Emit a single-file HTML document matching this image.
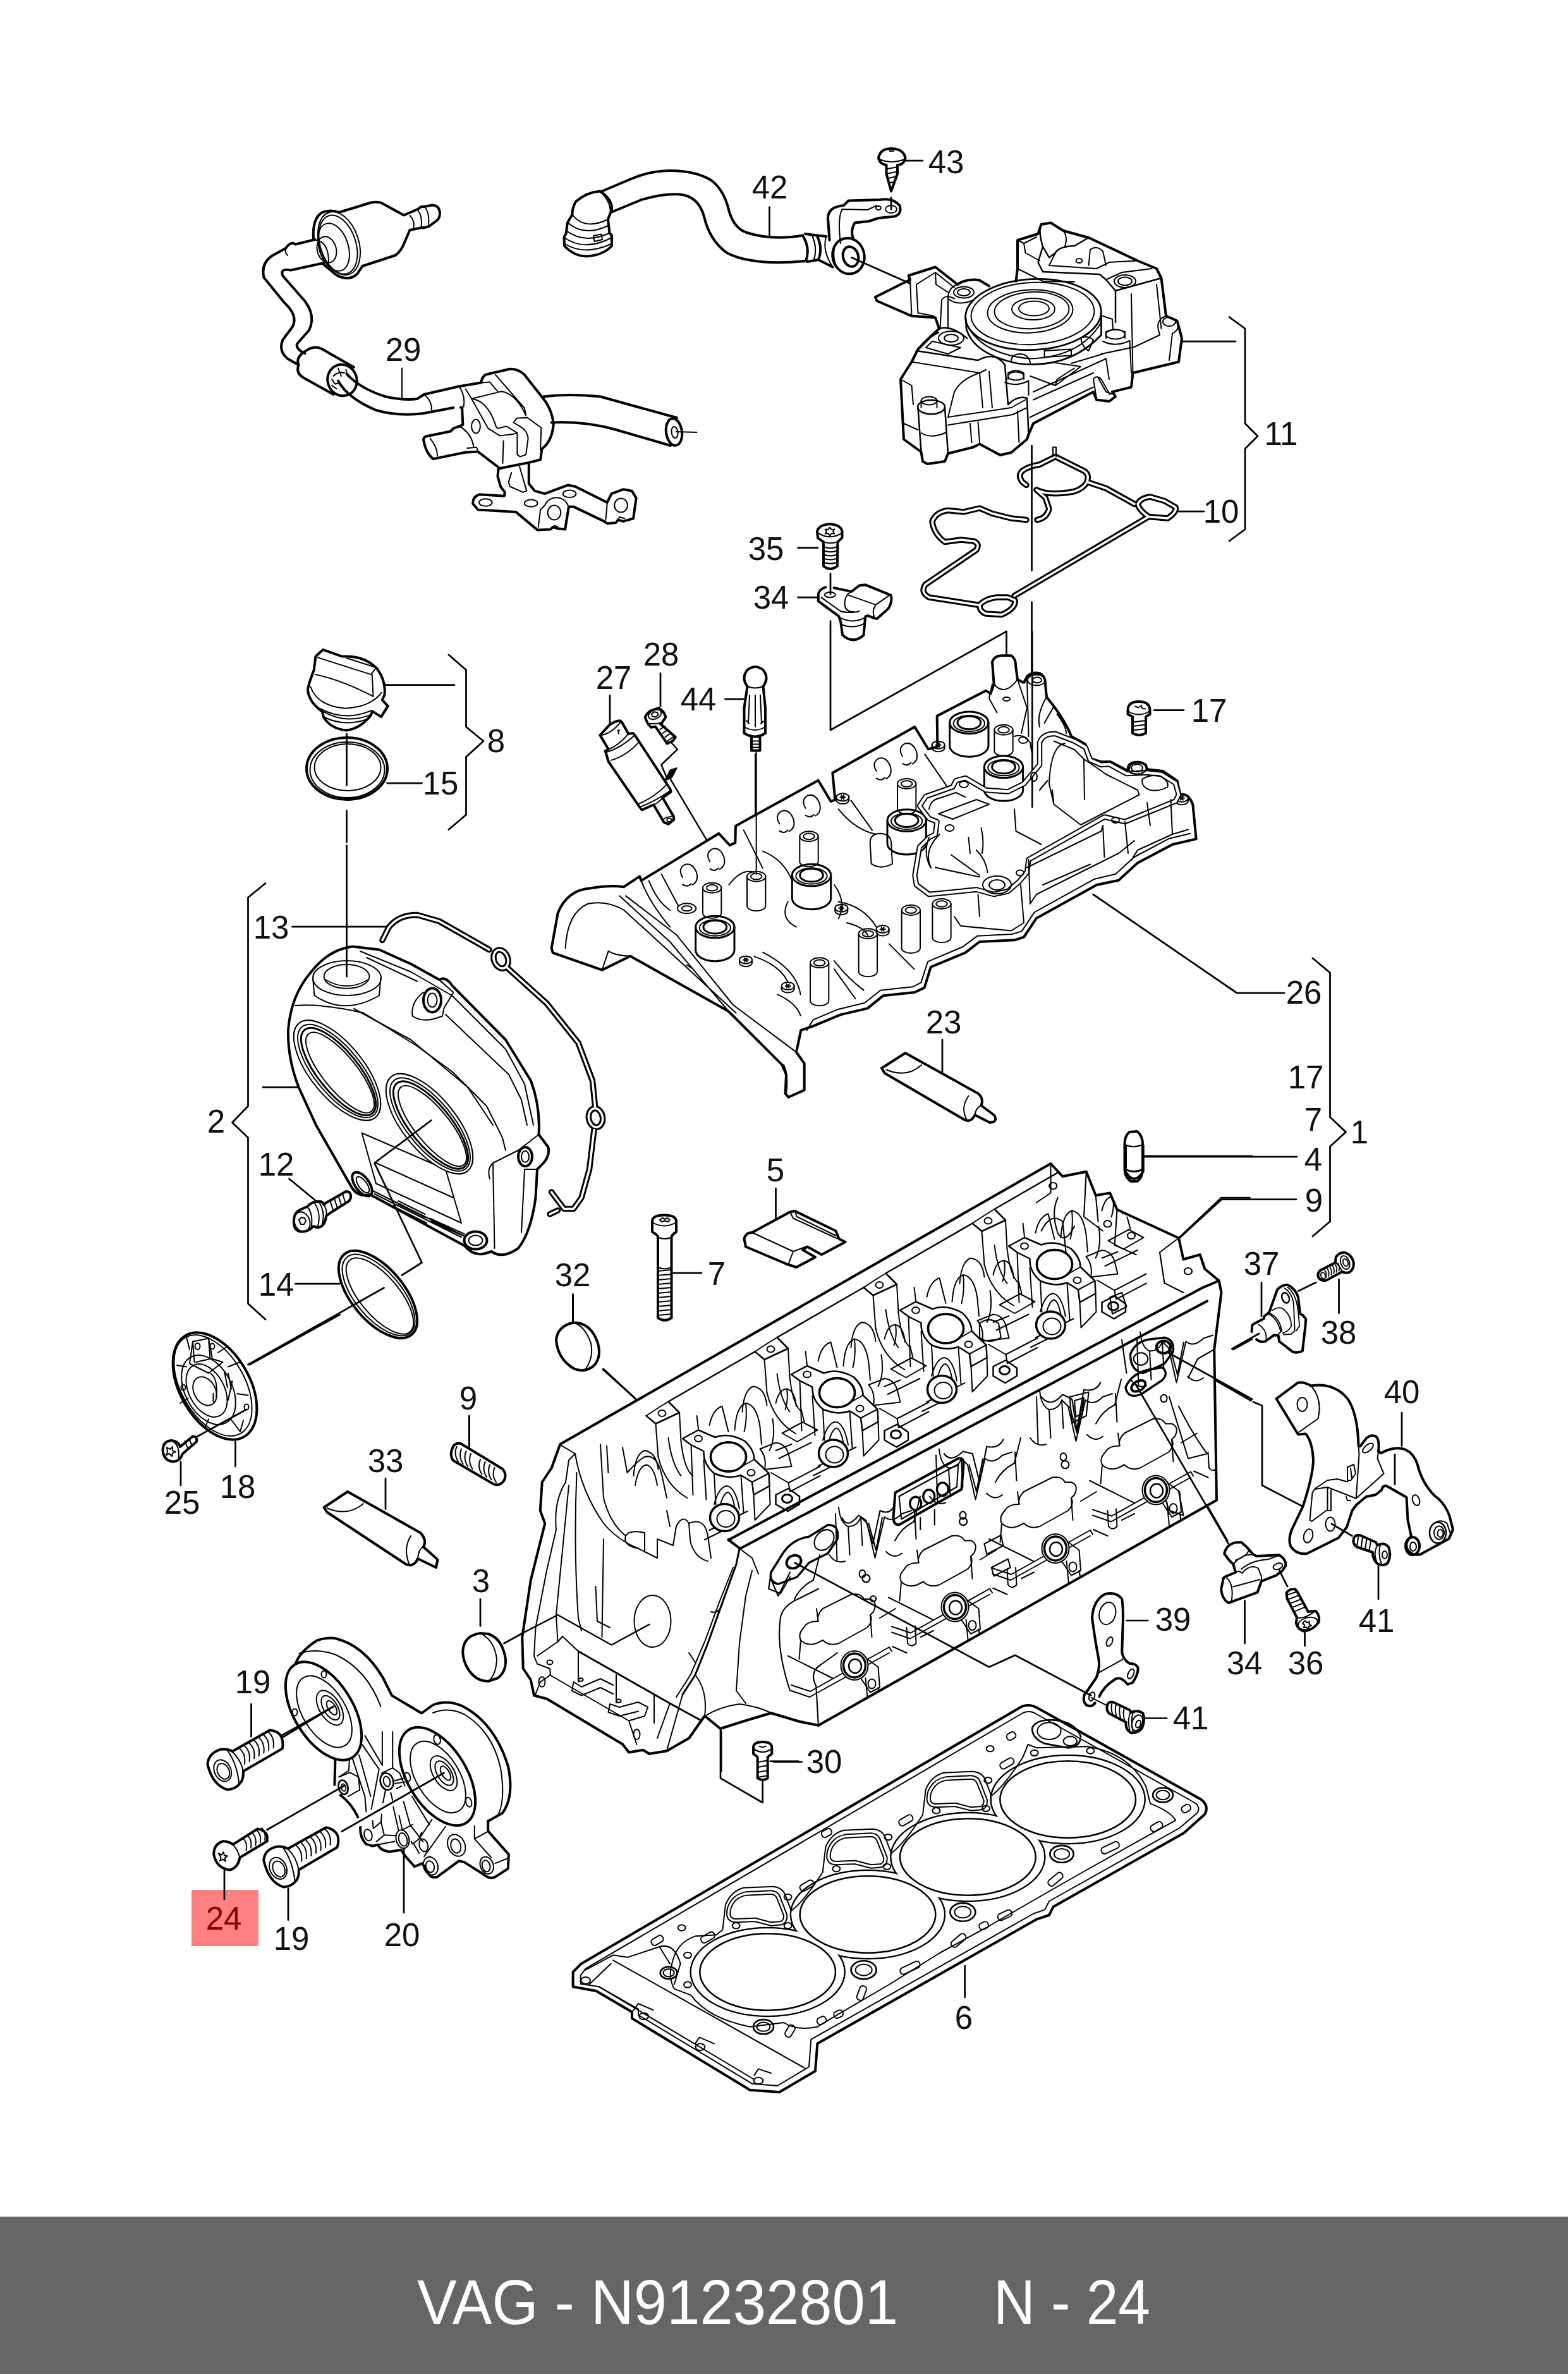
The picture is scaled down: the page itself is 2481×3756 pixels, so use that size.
<!DOCTYPE html>
<html><head><meta charset="utf-8"><title>VAG - N91232801 N - 24</title>
<style>
html,body{margin:0;padding:0;background:#fff;}
body{width:2481px;height:3756px;position:relative;overflow:hidden;font-family:"Liberation Sans",sans-serif;}
svg{position:absolute;left:0;top:0;}
.footer{position:absolute;left:0;top:3507px;width:2481px;height:249px;background:#666666;}
.ln{fill:none;stroke:#000;stroke-width:8;stroke-linecap:round;stroke-linejoin:round;}
.ln *{vector-effect:none;}
.wf{fill:#fff;}
.tn{stroke-width:4;}
.ld{stroke-width:5.5;}
.ln6{fill:none;stroke:#000;stroke-width:6;stroke-linecap:round;stroke-linejoin:round;}
.tn3{fill:none;stroke:#000;stroke-width:3;stroke-linecap:round;stroke-linejoin:round;}
.ln5{fill:none;stroke:#000;stroke-width:5.33;stroke-linecap:round;stroke-linejoin:round;}
.tn27{fill:none;stroke:#000;stroke-width:2.8;stroke-linecap:round;stroke-linejoin:round;}
.ld33{fill:none;stroke:#000;stroke-width:3.5;}
.md45{fill:none;stroke:#000;stroke-width:4.5;stroke-linecap:round;stroke-linejoin:round;}
.z4{fill:none;stroke:#000;stroke-width:17.4;stroke-linecap:round;stroke-linejoin:round;}
.z4t{stroke-width:8.7;}
.z5{fill:none;stroke:#000;stroke-width:19.6;stroke-linecap:round;stroke-linejoin:round;}
.z5t{stroke-width:9.8;}
.z56{fill:none;stroke:#000;stroke-width:22.4;stroke-linecap:round;stroke-linejoin:round;}
.z56t{stroke-width:11;}
.z39{fill:none;stroke:#000;stroke-width:15.7;stroke-linecap:round;stroke-linejoin:round;}
.z39t{stroke-width:7.8;}
.z52{fill:none;stroke:#000;stroke-width:20.9;stroke-linecap:round;stroke-linejoin:round;}
.z52t{stroke-width:10.5;}
.z46{fill:none;stroke:#000;stroke-width:18.4;stroke-linecap:round;stroke-linejoin:round;}
.z46t{stroke-width:9.2;}
.z65{fill:none;stroke:#000;stroke-width:26;stroke-linecap:round;stroke-linejoin:round;}
.z65t{stroke-width:12;}
.ld4{fill:none;stroke:#000;stroke-width:4;}
.gk{stroke-width:19;}
.gkw{stroke:#fff;stroke-width:7;}
.lbl{font-family:"Liberation Sans",sans-serif;font-size:51px;fill:#111;text-anchor:middle;}
.ft{font-family:"Liberation Sans",sans-serif;font-size:100px;fill:#fff;}
</style></head><body>
<div class="footer"></div>
<svg width="2481" height="3756" viewBox="0 0 2481 3756">
<!-- 00_footer.svg -->
<text class="ft" x="660" y="3677" textLength="761" lengthAdjust="spacingAndGlyphs">VAG - N91232801</text>
<text class="ft" x="1572" y="3677" textLength="248" lengthAdjust="spacingAndGlyphs">N - 24</text>

<!-- 10_tileA_29.svg -->
<g class="ln" transform="translate(300,200) scale(0.5)">
<!-- canister -->
<path d="M392,355 Q388,290 420,272 Q445,262 473,272 L574,241 Q590,238 605,241 L678,281 L724,261 Q732,252 742,254 L768,249 Q790,250 792,273 Q792,292 782,298 L758,316 Q740,322 735,320 L697,328 L681,365 Q670,395 651,408 L547,442 L531,466 Q515,482 495,480 Q470,478 452,460 L423,436"/>
<g class="tn">
<ellipse cx="473" cy="370" rx="62" ry="103" transform="rotate(-18 473 370)"/>
<ellipse cx="470" cy="374" rx="56" ry="96" transform="rotate(-18 470 374)"/>
<ellipse cx="456" cy="382" rx="46" ry="78" transform="rotate(-18 456 382)"/>
<ellipse cx="434" cy="390" rx="30" ry="42" transform="rotate(-15 434 390)"/>
<path d="M400,360 Q440,365 440,430"/>
<path d="M697,282 Q715,300 708,325 M722,265 Q738,285 733,318 M745,256 Q760,275 756,314"/>
</g>
<!-- pipe from canister -->
<path d="M397,358 L335,373 Q320,362 305,385 L260,410 Q225,435 235,478 L300,558 Q345,600 325,635 L295,675 Q280,710 310,735 L345,755"/>
<path d="M424,432 L320,455 Q285,448 295,473 L365,553 Q400,600 378,645 L340,688 Q335,705 365,718"/>
<path class="tn" d="M305,385 Q300,400 310,408"/>
<!-- sleeve -->
<path d="M345,755 Q335,730 365,712 Q395,690 420,705 L520,762"/>
<path d="M345,755 Q335,780 360,795 L455,848"/>
<ellipse cx="483" cy="803" rx="46" ry="50" transform="rotate(-20 483 803)"/>
<path class="tn" d="M455,790 Q470,775 490,780 M450,820 L465,830 M470,765 L480,790 M495,770 L500,790 M450,800 L460,815 L475,812"/>
<!-- tube to valve -->
<path d="M497,783 Q540,830 620,855 Q680,868 720,862 L742,848 L855,822"/>
<path d="M470,805 Q500,860 590,898 Q660,918 740,908 L835,890"/>
<path class="tn" d="M742,848 Q770,870 765,905"/>
<!-- valve+bracket (zoom coords) -->
</g>
<g class="z4" transform="translate(660,570) scale(0.22957)">
<path d="M290,180 L440,155 Q450,100 490,95 L640,60 Q700,60 740,100 L850,240 Q930,330 940,440 Q930,560 860,610 L850,685 L770,705 L770,850 L810,900 L880,920 L1040,860 L1090,870 L1310,980 L1340,920 L1420,890 L1480,900 L1510,950 L1490,1090 L1420,1110 L1385,1100 L1370,1120 L1310,1125 L1290,1110 L1080,1010 L1045,1010 L1020,1165 L970,1160 L935,1150 L920,1165 L830,1170 L680,1045 L420,1030 L385,990 Q380,940 430,925 L600,935 L605,910 L575,870 L555,800 L560,750 L570,745 L420,630 L330,635 L110,680 Q60,640 45,555 Q40,535 60,525 L230,490 L250,470 L315,445 L310,330 L300,325"/>
<path d="M570,745 L770,705"/>
<g class="z4t">
<path d="M290,180 Q335,250 320,320 L300,325 M375,265 L580,215 Q680,230 750,380 M335,200 L375,265 L490,470 L570,520 L660,510 L690,500 L690,650 L710,665 L750,650 L765,540 Q760,480 700,450 L665,430 L685,400 L760,395 L855,465 L850,620 M375,265 Q490,280 545,460 L555,470 L615,455 L690,500 M595,555 L590,710 M440,155 L500,150 L555,215 M540,100 L740,330 L750,380 M90,540 Q140,600 140,660 M250,470 Q300,450 315,470 M345,605 L410,600 L420,630 M315,470 Q380,520 390,600"/>
<ellipse cx="405" cy="455" rx="30" ry="48"/>
<path d="M650,775 L630,840 L640,870 L730,910 L755,900 L705,730 M880,1000 Q900,950 960,945 Q1020,950 1040,1000 M835,1150 L850,1030 L880,1000 M1300,1100 L1310,985 M1385,1100 L1395,1080 L1430,1090 M935,1150 L945,1140 L970,1145"/>
<ellipse cx="472" cy="980" rx="45" ry="25"/><ellipse cx="785" cy="985" rx="45" ry="25"/><ellipse cx="1050" cy="920" rx="45" ry="25"/><ellipse cx="945" cy="1050" rx="45" ry="50"/><ellipse cx="1405" cy="1000" rx="45" ry="48"/>
</g>
</g>
<g class="ln" transform="translate(300,200) scale(0.5)">
<!-- right hose -->
<path d="M1120,855 Q1200,845 1300,855 L1542,922"/>
<path d="M1145,937 Q1250,932 1350,960 L1522,1010"/>
<ellipse cx="1533" cy="967" rx="25" ry="43" transform="rotate(-8 1533 967)"/>
<ellipse class="tn" cx="1535" cy="968" rx="10" ry="18" transform="rotate(-8 1535 968)"/>
<path d="M1540,966 L1605,968" class="tn"/>
<path d="M672,765 L672,860" class="tn"/>
</g>
<text class="lbl" x="638" y="571">29</text>

<!-- 11_tileB_42.svg -->
<g class="ln" transform="translate(850,200) scale(0.5)">
<!-- elbow connector -->
<path d="M198,205 Q157,208 122,238 Q110,260 111,279 L96,304 L91,340 L85,350 L86,378 Q117,411 157,411 Q208,408 236,378 L236,345 L229,337 L224,294 L236,263 Q238,230 198,205"/>
<g class="tn">
<path d="M111,279 Q150,330 224,294 M96,304 Q150,352 228,312 M92,330 Q150,374 230,337 M86,352 Q150,397 236,352 M88,372 Q150,410 234,372 M198,205 Q232,235 232,275"/>
<path d="M178,346 L203,341 L206,358 L181,364 Z"/>
</g>
<!-- hose -->
<path d="M205,205 L300,165 Q360,140 420,140 Q500,140 550,170 Q590,200 605,260 Q620,320 660,335 Q740,362 840,345"/>
<path d="M238,270 L330,232 Q400,212 450,215 Q510,220 528,285 Q545,360 600,400 Q680,442 850,426"/>
<path d="M840,345 Q865,385 850,426 M848,340 L885,345 Q905,385 890,422 L855,428"/>
<path class="tn" d="M870,345 Q888,385 875,425"/>
<path d="M885,345 L915,348 M890,422 L935,445"/>
<!-- ring -->
<ellipse cx="985" cy="410" rx="50" ry="57" transform="rotate(-15 985 410)"/>
<ellipse cx="992" cy="412" rx="24" ry="32" transform="rotate(-15 992 412)"/>
<path class="tn" d="M945,370 Q930,410 950,450 M915,348 Q900,390 935,445"/>
<!-- bracket arm -->
<path d="M925,360 L920,290 Q920,255 970,250 L985,235 L1085,232 Q1125,225 1147,250 Q1155,278 1130,285 L1080,290 L1050,300 L1005,305 Q990,330 1000,355"/>
<path class="tn" d="M965,262 L1045,264 L1075,250 M965,262 Q950,290 960,370"/>
<ellipse class="tn" cx="1080" cy="258" rx="8" ry="6"/>
<ellipse class="tn" cx="1120" cy="262" rx="18" ry="12"/>
<path class="ld" d="M995,415 L1180,497"/>
<path class="ld" d="M1120,225 L1120,262"/>
<!-- screw 43 -->
<path d="M1080,100 Q1085,70 1122,70 Q1160,72 1165,100 Q1160,122 1140,122 L1140,150 L1120,205 L1105,150 L1105,122 Q1085,120 1080,100 Z" />
<path class="tn" d="M1105,135 L1140,128 M1105,150 L1140,143 M1108,165 L1137,158 M1112,180 L1132,174 M1085,105 Q1122,120 1160,105 M1115,78 L1128,78"/>
<path class="ld" d="M1165,108 L1220,108"/>
<path class="ld" d="M735,255 L735,350"/>
</g>
<text class="lbl" x="1497" y="274">43</text>
<text class="lbl" x="1218" y="314">42</text>

<!-- 12_tileC_11.svg -->
<g class="ln" transform="translate(1350,300) scale(0.5)">
<!-- module silhouette -->
<path d="M70,340 L180,285 L175,272 L260,245 L330,300 Q360,280 400,287 L430,305 M70,340 L75,352 L185,400 L260,405 L272,440 L250,460 L205,505 L185,545 L150,600 L160,790 L215,830 L220,860 L235,868 L290,860 L300,835 L380,815 L400,805 L465,840 L500,832 L550,790 L555,775 L570,740 L760,640 L770,665 L810,670 L830,655 L820,640 L880,625 L885,580 L1030,545 L1040,470 L1025,415 L990,400 L975,280 L960,250 L900,225 L745,152 L665,130 L625,105 L595,110 L585,140 L520,160 L520,250 L515,290"/>
<!-- big cap -->
<ellipse cx="570" cy="395" rx="215" ry="112" transform="rotate(-3 570 395)" style="stroke-width:5.5"/>
<path style="stroke-width:5.5" d="M356,405 L358,440 Q380,520 520,550 Q680,570 785,460 L785,395"/>
<g class="tn">
<ellipse cx="568" cy="392" rx="195" ry="98" transform="rotate(-3 568 392)"/>
<ellipse cx="560" cy="385" rx="135" ry="68" transform="rotate(-3 560 385)"/>
<ellipse cx="565" cy="382" rx="118" ry="58" transform="rotate(-3 565 382)"/>
<ellipse cx="570" cy="378" rx="68" ry="34"/>
<ellipse cx="572" cy="376" rx="48" ry="23"/>
<path d="M357,420 Q400,520 560,535 Q720,530 785,420"/>
<path d="M605,510 L690,505 L690,525 L605,530 Z M720,470 Q740,460 760,475 L745,510 Q725,500 720,470"/>
<path d="M500,545 Q500,520 530,520 Q555,522 560,548"/>
</g>
<!-- left tab details -->
<g class="tn">
<path d="M180,285 L185,400 M200,300 L205,390 L255,400 M200,300 L260,262 L320,310 M260,262 L262,300 L300,325"/>
<path d="M275,440 L280,350 Q290,330 320,345 M330,300 Q300,310 300,345 Q330,370 380,350 M300,345 L300,440"/>
</g>
<ellipse class="tn" cx="350" cy="325" rx="32" ry="18"/>
<ellipse class="tn" cx="350" cy="325" rx="20" ry="11"/>
<!-- top-right block -->
<path style="stroke-width:5" d="M595,110 Q585,130 600,180 L620,215 L640,200 Q650,180 700,178 L745,152 M600,180 L585,230 L600,260 L780,268 L800,285 L830,320 L975,280 M830,320 L830,420"/>
<g class="tn">
<path d="M520,160 L540,170 L545,200 L590,225 M540,170 L580,150 M520,250 L600,290 L700,292 M640,200 L620,240 L770,250 L810,230 L900,225 M750,190 Q770,175 790,195 L800,240 M750,190 L745,240 M665,130 Q680,150 670,180 M800,285 L850,262 L945,250"/>
<ellipse cx="715" cy="225" rx="10" ry="7"/>
<ellipse cx="860" cy="290" rx="22" ry="13"/>
<ellipse cx="860" cy="290" rx="34" ry="20"/>
<path d="M880,330 L885,580 M960,300 L975,440 M990,400 Q960,410 965,440 L970,460 L885,500 M1025,415 Q1035,445 1010,455 L1000,540"/>
<ellipse cx="1000" cy="418" rx="20" ry="14"/>
</g>
<!-- lower body -->
<path style="stroke-width:5" d="M200,510 L395,540 Q450,510 480,555 L490,680 Q520,650 550,660 L555,775 M205,505 Q230,470 270,452 M272,440 Q300,430 340,455 L360,470"/>
<path style="stroke-width:5" d="M205,690 L215,830 M290,690 L300,835"/>
<ellipse cx="247" cy="688" rx="43" ry="22" style="stroke-width:5"/>
<g class="tn">
<ellipse cx="240" cy="668" rx="25" ry="13"/>
<path d="M215,668 L215,690 M265,668 L265,690 M215,770 Q247,790 295,768"/>
<ellipse cx="310" cy="470" rx="40" ry="22"/>
<ellipse cx="310" cy="470" rx="22" ry="12"/>
<path d="M185,545 L400,580 L420,570 M150,600 L185,620 L190,680 M160,740 L205,760 M230,500 L300,520 L340,500 L250,480 Z M300,720 L500,690 L545,665 M300,745 L505,712 L550,690 M320,640 Q340,600 400,580 L410,690 M430,575 L440,690 M300,720 L320,640 M370,740 L375,800 M395,735 L400,800 M520,700 L525,800"/>
<path d="M490,600 L490,580 Q515,565 540,580 L540,600 M480,610 Q515,625 555,605 L555,650"/>
<ellipse cx="515" cy="590" rx="25" ry="13"/>
<path d="M560,590 L640,620 L720,560 L640,548 M570,640 L800,535 L810,600 M570,665 L760,580 M560,720 L760,625 M640,620 L645,600 L700,565 M690,550 L740,535 L790,520 M760,600 L770,660 M775,595 L800,640 L830,650 M760,600 Q770,585 785,600 L812,648"/>
<path d="M800,470 L800,450 Q830,435 860,450 L860,470 M790,480 Q830,500 875,478 L880,580"/>
<ellipse cx="830" cy="458" rx="30" ry="15"/>
<path d="M790,400 L820,410 L822,440 M785,520 L880,500"/>
</g>
<!-- leaders/bracket -->
<path class="ld" d="M1040,480 L1210,480"/>
<path class="ld" d="M1190,403 L1240,440 L1240,740 L1280,780 L1240,820 L1240,1075 L1190,1112"/>
<path class="ld" d="M1025,1018 L1110,1018"/>
<!-- gasket 10 -->
<g class="gk">
<path d="M640,845 L730,890 Q748,900 740,925 L800,945 L890,995 M935,1035 L510,1285 M400,1315 L240,1290 Q212,1275 228,1250 L390,1140 Q402,1120 380,1112 L340,1108 L290,1115 Q255,1090 250,1050 Q262,1020 300,1015 L350,1020 L400,1008 L440,1025 L500,1040 L548,1045 M582,1045 Q612,1040 620,1010 L608,975 L580,950 M640,845 L590,870 M580,950 Q620,970 700,955 Q730,945 740,925 M590,870 Q555,875 535,890"/>
<path d="M940,972 Q910,975 900,995 Q905,1015 935,1035 L995,1040 Q1025,1020 1020,1005 L985,985 Z"/>
<path d="M455,1290 Q415,1295 400,1315 Q400,1335 420,1342 L470,1345 Q515,1325 512,1300 L490,1290 Z"/>
<path d="M535,890 Q520,905 535,925 L548,935"/>
</g>
<g class="gkw">
<path d="M640,845 L730,890 Q748,900 740,925 L800,945 L890,995 M935,1035 L510,1285 M400,1315 L240,1290 Q212,1275 228,1250 L390,1140 Q402,1120 380,1112 L340,1108 L290,1115 Q255,1090 250,1050 Q262,1020 300,1015 L350,1020 L400,1008 L440,1025 L500,1040 L548,1045 M582,1045 Q612,1040 620,1010 L608,975 L580,950 M640,845 L590,870 M580,950 Q620,970 700,955 Q730,945 740,925 M590,870 Q555,875 535,890"/>
<path d="M940,972 Q910,975 900,995 Q905,1015 935,1035 L995,1040 Q1025,1020 1020,1005 L985,985 Z"/>
<path d="M455,1290 Q415,1295 400,1315 Q400,1335 420,1342 L470,1345 Q515,1325 512,1300 L490,1290 Z"/>
<path d="M535,890 Q520,905 535,925 L548,935"/>
</g>
<path d="M632,845 L632,815 L642,815 L642,845" class="tn"/>
<path class="ld" d="M565,810 L565,1205 M565,1305 L565,1568"/>
</g>
<text class="lbl" x="2027" y="704">11</text>
<text class="lbl" x="1932" y="827">10</text>

<!-- 13_tileD_small.svg -->
<g class="ln" transform="translate(850,800) scale(0.5)">
<!-- screw 35 moved -->
<path class="ld" d="M825,133 L888,133 M928,215 L928,280"/>
<!-- sensor 34 moved -->
<path class="ld" d="M825,290 L890,290 M928,365 L928,710 L1485,398 L1485,610"/>
<ellipse class="tn" cx="1485" cy="612" rx="9" ry="5"/>
<!-- 28 -->
<path class="ld" d="M390,530 L390,635 M230,600 L230,690"/>
</g>
<g class="z5" transform="translate(930,1110) scale(0.20408)">
<path d="M95,260 L170,180 Q210,150 250,148 L265,160 L315,250 L350,245 L365,260 L640,680 L645,700 L580,745 L665,890 L668,915 L625,950 L590,935 L510,800 L420,840 L400,815 L160,465 L140,395 L135,385 L160,370 Z"/>
<g class="z5t">
<path d="M100,262 Q180,250 255,160 M160,370 Q240,340 315,250 M140,395 Q260,360 365,260 M180,455 Q300,420 390,320 M400,790 Q520,740 615,640 M410,815 Q530,770 640,690 M510,800 Q550,785 580,745 M590,910 Q610,895 650,890 M230,225 L245,222 M235,225 L240,250"/>
<ellipse cx="632" cy="918" rx="18" ry="14"/>
</g>
<path d="M445,125 Q450,95 490,70 L550,50 Q590,70 605,120 L575,165 L560,170 L680,275 L660,305 L615,325 L525,195 L490,200 L465,170 Z"/>
<g class="z5t">
<ellipse cx="520" cy="100" rx="52" ry="34" transform="rotate(-25 520 100)"/>
<path d="M495,95 l20,-15 l25,5 l5,20 l-20,15 l-25,-5 z M465,170 Q520,175 575,165 M560,215 L600,190 M580,245 L622,218 M600,275 L645,245 M618,305 L662,275"/>
<path d="M640,310 L695,370 L570,490 L610,585" style="stroke-width:12"/>
<path d="M640,530 L690,515 L650,590 L600,610 Z" style="fill:#000"/>
<path d="M640,600 L920,1070" style="stroke-width:12"/>
</g>
</g>
<g class="ln" transform="translate(850,800) scale(0.5)">
<!-- 44 -->
<path d="M665,572 Q645,545 665,520 Q690,500 715,520 Q735,545 715,572 L722,640 L722,720 Q690,742 655,720 L655,640 Z"/>
<path class="tn" d="M665,572 Q690,582 715,572 M672,600 L668,690 M690,600 L690,700 M706,600 L710,690 M655,700 Q690,720 722,700 M662,680 l8,8 M708,690 l8,-8"/>
<path d="M678,735 L678,775 L705,775 L705,735"/>
<path class="tn" d="M678,745 L705,745 M678,755 L705,755 M678,765 L705,765"/>
<path class="ld" d="M595,612 L655,612"/>
<path class="tn" d="M690,785 L690,1170"/>
</g>
<text class="lbl" x="1212" y="886">35</text>
<text class="lbl" x="1220" y="963">34</text>
<text class="lbl" x="1046" y="1053">28</text>
<text class="lbl" x="971" y="1090">27</text>
<text class="lbl" x="1105" y="1124">44</text>

<!-- 14_tileF_cap.svg -->
<g class="ln" transform="translate(300,1000) scale(0.5)">
<!-- oil cap 8 -->
</g>
<g class="z56" transform="translate(470,1010) scale(0.17857)">
<path d="M165,160 L230,100 L400,160 Q600,150 710,270 Q790,380 775,500 L755,545 L805,600 L745,695 L665,645 L655,680 Q560,800 435,815 Q300,800 235,700 L225,650 Q100,560 95,450 Q110,380 150,280 Z"/>
<g class="z56t">
<path d="M185,170 L655,320 M160,320 Q400,370 675,515 M655,320 L690,275 M665,320 L675,515 M440,175 L690,255 M120,430 Q180,600 430,620 Q650,610 750,480 M200,620 Q420,740 655,640 M235,650 Q430,760 645,680 M245,700 Q430,790 640,710"/>
</g>
</g>
<g class="ln" transform="translate(300,1000) scale(0.5)">
<path class="ld" d="M620,167 L838,167"/>
<!-- o-ring 15 -->
<ellipse cx="498" cy="432" rx="128" ry="98"/>
<ellipse cx="500" cy="428" rx="105" ry="74" style="stroke-width:4"/>
<ellipse class="tn" cx="499" cy="436" rx="118" ry="88"/>
<path class="ld" d="M625,478 L735,478"/>
<path class="ld" d="M497,322 L497,485 M497,565 L497,665 M497,675 L497,1090"/>
<!-- bracket 8 -->
<path class="ld" d="M820,72 L875,120 L875,300 L930,345 L875,395 L875,578 L820,625"/>
<!-- bracket 2 -->
<path class="ld" d="M240,795 L185,840 L185,1500 L135,1552 L185,1600 L185,2125 L240,2175"/>
<path class="ld" d="M325,932 L625,932 M232,1440 L345,1440"/>
</g>
<text class="lbl" x="785" y="1190">8</text>
<text class="lbl" x="697" y="1257">15</text>
<text class="lbl" x="429" y="1485">13</text>
<text class="lbl" x="342" y="1792">2</text>

<!-- 15_tileG_tcover.svg -->
<g class="ln" transform="translate(300,1500) scale(0.5)">
<!-- gasket 13 -->
<g class="gk">
<path d="M610,-25 L630,-65 Q660,-105 720,-105 L790,-85 L948,5 M1005,62 L1130,175 L1230,300 L1275,420 L1283,500 M1280,575 L1265,700 L1240,790 L1215,825 L1185,825 L1160,792 L1145,772 M1140,842 L1165,830"/>
<ellipse cx="985" cy="35" rx="22" ry="30" transform="rotate(-20 985 35)"/>
<ellipse cx="1285" cy="537" rx="22" ry="30" transform="rotate(-10 1285 537)"/>
</g>
<g class="gkw">
<path d="M610,-25 L630,-65 Q660,-105 720,-105 L790,-85 L948,5 M1005,62 L1130,175 L1230,300 L1275,420 L1283,500 M1280,575 L1265,700 L1240,790 L1215,825 L1185,825 L1160,792 L1145,772 M1140,842 L1165,830"/>
<ellipse cx="985" cy="35" rx="22" ry="30" transform="rotate(-20 985 35)"/>
<ellipse cx="1285" cy="537" rx="22" ry="30" transform="rotate(-10 1285 537)"/>
</g>
<!-- cover outline -->
<path class="wf" d="M515,-5 L600,5 L700,50 L790,100 Q812,88 832,120 L1000,290 L1080,420 Q1110,500 1105,590 L1135,630 Q1142,662 1110,690 L1100,700 L1095,790 Q1080,900 1040,950 Q990,985 955,960 L940,965 Q900,978 870,942 L590,790 L570,780 Q530,790 510,752 L400,560 L345,440 Q310,350 312,260 Q320,150 385,75 Q440,5 515,-5 Z"/>
<!-- neck -->
<path class="tn" d="M390,95 L395,150 Q490,215 600,150 L605,95"/>
<ellipse class="tn" cx="498" cy="95" rx="108" ry="55"/>
<ellipse class="tn" cx="497" cy="90" rx="72" ry="38"/>
<path class="tn" d="M430,100 Q497,140 565,100"/>
<path class="tn" d="M545,585 L810,700 L860,870 L590,745 Z M590,680 L835,790"/>
<!-- seal openings -->
<g class="tn">
<ellipse class="wf" cx="467" cy="387" rx="192" ry="84" transform="rotate(51 467 387)"/>
<ellipse cx="469" cy="389" rx="180" ry="73" transform="rotate(51 469 389)"/>
<ellipse cx="476" cy="394" rx="158" ry="54" transform="rotate(51 476 394)"/>
<ellipse class="wf" cx="759" cy="556" rx="192" ry="84" transform="rotate(51 759 556)"/>
<ellipse cx="761" cy="558" rx="180" ry="73" transform="rotate(51 761 558)"/>
<ellipse cx="768" cy="563" rx="158" ry="54" transform="rotate(51 768 563)"/>
</g>
<ellipse cx="471" cy="391" rx="170" ry="64" transform="rotate(51 471 391)" style="stroke-width:6"/>
<ellipse cx="763" cy="560" rx="170" ry="64" transform="rotate(51 763 560)" style="stroke-width:6"/>
<!-- ridge lines -->
<g class="tn">
<path d="M335,182 Q420,175 550,205 L720,310 L830,390 L940,500 L990,600 L1000,640"/>
<path d="M520,192 L700,290 L880,440 L960,560"/>
<path d="M540,10 L700,75 L830,150 L1000,320 L1060,430 L1088,560"/>
<path d="M560,30 L720,105 M810,210 L1010,400 L1050,480 L1068,560"/>
<path d="M705,215 Q700,170 740,140 M790,100 Q800,110 835,140 L805,190 L800,215 M705,215 Q740,240 800,215"/>
<ellipse cx="768" cy="165" rx="15" ry="22"/>
<path d="M1105,590 L1040,640 L960,680 Q940,700 950,730 M960,680 L965,950 M1060,700 L1050,900 M1095,700 L1060,700"/>
<ellipse cx="1062" cy="660" rx="12" ry="18"/>
<ellipse cx="548" cy="749" rx="30" ry="13" transform="rotate(54 548 749)"/>
<ellipse cx="905" cy="925" rx="22" ry="16"/>

<path d="M580,768 L870,912 M585,778 L860,915 M590,790 L750,870 M660,800 L745,842 M660,810 L745,852 M700,830 L745,850 M760,855 L870,905 M765,865 L860,908"/>
</g>
<ellipse cx="768" cy="165" rx="28" ry="38"/>
<ellipse cx="1062" cy="660" rx="22" ry="30"/>
<ellipse cx="546" cy="747" rx="44" ry="22" transform="rotate(54 546 747)"/>
<ellipse cx="905" cy="925" rx="36" ry="28"/>
<path class="ld" d="M765,545 L585,680 L735,995 L672,1035"/>
<path class="ld" d="M497,0 L497,90"/>
<!-- bolt 12 -->
<path d="M330,868 Q328,838 350,828 L372,818 Q390,800 408,802 Q420,800 425,812 L432,806 L495,770 Q512,770 510,790 L505,800 L445,838 L432,848 Q430,870 418,880 Q405,888 392,880 L378,892 Q350,905 335,888 Q330,880 330,868 Z"/>
<g class="tn"><ellipse cx="356" cy="866" rx="24" ry="32" transform="rotate(-20 356 866)"/>
<path d="M372,818 Q392,840 385,885 M408,802 Q432,835 418,880 M395,806 Q418,840 405,884 M445,800 L455,832 M458,792 L468,824 M471,785 L481,816 M484,778 L494,808 M425,812 Q436,830 432,848 M346,860 l8,-8 l10,2 l4,10 l-6,10 l-10,0 z"/></g>
<path class="ld" d="M315,730 L400,800"/>
<!-- o-ring 14 -->
<ellipse cx="596" cy="1096" rx="166" ry="83" transform="rotate(50 596 1096)"/>
<ellipse class="tn" cx="598" cy="1098" rx="156" ry="73" transform="rotate(50 598 1098)"/>
<ellipse class="tn" cx="602" cy="1101" rx="148" ry="62" transform="rotate(50 602 1101)"/>
<path class="ld" d="M335,1062 L475,1062 M615,1075 L185,1318"/>
<!-- plug 32 -->
<path d="M1160,1240 Q1165,1195 1215,1185 Q1270,1185 1292,1250 Q1305,1300 1275,1325 Q1245,1345 1215,1330 Q1165,1300 1160,1240 Z"/>
<path class="tn" d="M1215,1185 Q1250,1195 1270,1250 Q1280,1300 1248,1338"/>
<path class="ld" d="M1213,1095 L1213,1180 M1310,1332 L1410,1425 M885,1480 L885,1570"/>
</g>
<text class="lbl" x="437" y="1860">12</text>
<text class="lbl" x="437" y="2050">14</text>
<text class="lbl" x="906" y="2035">32</text>
<text class="lbl" x="741" y="2230">9</text>

<!-- 16_tileH.svg -->
<g class="ln" transform="translate(230,2080) scale(0.5)">
<!-- part 18 disc -->
<ellipse cx="220" cy="226" rx="185" ry="110" transform="rotate(60 220 226)"/>
<g class="tn">
<ellipse cx="214" cy="224" rx="175" ry="100" transform="rotate(60 214 224)"/>
<ellipse cx="200" cy="238" rx="118" ry="74" transform="rotate(62 200 238)"/>
<ellipse cx="194" cy="240" rx="90" ry="56" transform="rotate(62 194 240)"/>
<ellipse cx="188" cy="242" rx="48" ry="34" transform="rotate(62 188 242)"/>
<path d="M150,85 L200,75 L212,140 L245,150 L200,185 L140,155 Z M150,85 L155,150 M200,75 L205,140 L160,150 M205,185 Q230,200 225,260 M215,250 L215,275"/>
<ellipse cx="165" cy="100" rx="8" ry="10"/>
<ellipse cx="320" cy="292" rx="7" ry="9"/>
<ellipse cx="120" cy="230" rx="7" ry="9"/>
<ellipse cx="212" cy="100" rx="7" ry="9"/>
<path d="M130,70 L140,110 M230,120 L260,100 M262,165 L300,150 M275,210 L262,270 M290,250 L325,255 M270,330 L300,370 L310,335 M200,330 L190,355 M100,160 L130,165 M110,280 L135,265 M250,180 L260,230 M262,185 L272,235"/>
</g>
<path class="ld" d="M615,0 L330,158 M285,395 L285,480 M112,465 L112,540 M165,385 L320,300"/>
<!-- screw 25 -->
<path d="M55,430 Q55,400 82,398 Q105,400 110,418 L150,385 Q165,385 162,402 L118,440 Q110,465 85,465 Q58,460 55,430 Z"/>
<path class="tn" d="M82,398 Q110,410 105,455 M125,400 L135,425 M138,392 L148,415 M68,420 l10,6 l8,-8 l0,12 l10,4 l-10,4 l-2,10 l-8,-8 l-10,4 l4,-10 z"/>
<!-- tube 33 -->
<path d="M565,610 L640,560 L870,690 Q892,712 880,735 L925,775 L920,800 L862,772 Q850,800 825,790 L575,625 Z"/>
<path class="tn" d="M575,612 Q640,640 690,598 M840,700 Q815,740 835,790 M880,735 Q865,740 862,772"/>
<path class="ld" d="M760,518 L760,615 M1025,322 L1025,420 M1060,900 L1060,985 M1135,1040 L1300,950"/>
<!-- stud 9 -->
<path d="M975,415 Q990,400 1005,412 L1130,488 Q1145,505 1135,525 Q1120,545 1100,535 L975,462 Q960,445 975,415 Z"/>
<path class="tn" d="M985,418 Q975,440 990,465 M1000,425 Q990,448 1005,472 M1015,432 Q1005,455 1020,480 M1030,440 Q1020,465 1035,488 M1060,458 Q1050,482 1065,505 M1075,466 Q1065,490 1080,514 M1090,475 Q1080,498 1095,522 M1105,484 Q1095,508 1110,530"/>
<!-- plug 3 -->
<path d="M1005,1060 Q1010,1015 1060,1008 L1085,1010 Q1130,1025 1140,1090 Q1142,1130 1115,1150 L1085,1160 Q1040,1160 1015,1110 Q1003,1085 1005,1060 Z"/>
<path class="tn" d="M1060,1008 Q1105,1030 1112,1090 Q1110,1140 1085,1160"/>
<!-- bolt 19 upper moved -->
<path class="ld" d="M335,1232 L335,1335 M430,1340 L595,1240"/>
</g>
<text class="lbl" x="376" y="2370">18</text>
<text class="lbl" x="288" y="2395">25</text>
<text class="lbl" x="610" y="2329">33</text>
<text class="lbl" x="761" y="2519">3</text>
<text class="lbl" x="400" y="2679">19</text>

<!-- 17_tileI.svg -->
<rect x="303" y="2990" width="106" height="89" fill="#ff8080"/>
<text class="lbl" x="354" y="3053" style="fill:#8a0000">24</text>
<g class="ln" transform="translate(230,2500) scale(0.5)">
<!-- part 20 -->
<path d="M476,263 Q490,225 543,191 Q575,180 600,184 Q690,205 752,309 L780,365 L874,421 L910,395 Q955,378 1002,398 Q1105,450 1148,589 Q1168,685 1130,737 L1084,763"/>
<ellipse cx="564" cy="414" rx="173" ry="93" transform="rotate(58.5 564 414)"/>
<ellipse cx="924" cy="621" rx="173" ry="93" transform="rotate(58.5 924 621)"/>
<g class="tn">
<path d="M487,232 Q540,215 600,235 Q700,280 745,400 M910,420 Q960,400 1010,425 Q1100,480 1125,600 Q1140,700 1115,745"/>
<ellipse cx="566" cy="416" rx="126" ry="68" transform="rotate(58.5 566 416)"/>
<ellipse cx="584" cy="404" rx="61" ry="33" transform="rotate(58.5 584 404)"/>
<ellipse cx="586" cy="404" rx="43" ry="22" transform="rotate(58.5 586 404)"/>
<ellipse cx="590" cy="404" rx="25" ry="12" transform="rotate(58.5 590 404)"/>
<ellipse cx="926" cy="623" rx="126" ry="68" transform="rotate(58.5 926 623)"/>
<ellipse cx="944" cy="611" rx="61" ry="33" transform="rotate(58.5 944 611)"/>
<ellipse cx="946" cy="611" rx="43" ry="22" transform="rotate(58.5 946 611)"/>
<ellipse cx="950" cy="611" rx="25" ry="12" transform="rotate(58.5 950 611)"/>
<ellipse cx="565" cy="298" rx="8" ry="11"/><ellipse cx="473" cy="418" rx="8" ry="11"/>
</g>
</g>
<g class="z5" transform="translate(510,2740) scale(0.20408)">
<path d="M100,220 L95,410 M140,490 Q230,560 275,660 M295,740 Q290,820 340,870 L390,885 L430,875 Q450,920 520,930 L610,915 L640,960 L715,1045 L775,1020 L830,1110 Q850,1135 890,1125 L1060,1000 L1100,1010 L1280,1125 Q1310,1140 1340,1125 L1440,1060 L1445,950 L1285,770 L1285,690"/>
<g class="z5t">
<ellipse cx="355" cy="800" rx="30" ry="45" transform="rotate(-15 355 800)"/>
<ellipse cx="625" cy="835" rx="32" ry="52" transform="rotate(-15 625 835)"/><ellipse cx="622" cy="832" rx="50" ry="72" transform="rotate(-15 622 832)"/>
<ellipse cx="785" cy="880" rx="33" ry="50" transform="rotate(-15 785 880)"/>
<ellipse cx="1035" cy="885" rx="38" ry="55" transform="rotate(-15 1035 885)"/><ellipse cx="1040" cy="880" rx="65" ry="88" transform="rotate(-25 1040 880)"/>
<ellipse cx="835" cy="1045" rx="32" ry="45" transform="rotate(-15 835 1045)"/><ellipse cx="840" cy="1040" rx="55" ry="72" transform="rotate(-20 840 1040)"/>
<ellipse cx="1270" cy="1040" rx="30" ry="45" transform="rotate(-15 1270 1040)"/><ellipse cx="1275" cy="1035" rx="50" ry="68" transform="rotate(-20 1275 1035)"/>
<path d="M210,220 L205,300 L130,350 M235,210 L330,500 L340,620 M285,180 L375,500 M330,30 L465,260 L465,0 M310,100 L440,290 L380,600 M545,0 L545,280 M490,450 L470,550 M530,470 L545,530 M460,640 L455,700 L395,750 L390,690 M455,700 L480,800 L420,850 M550,580 L590,760 M595,650 L620,760 L700,720 M630,540 L680,720 L780,850 M695,500 L830,720 M850,680 L750,830 L700,870 L690,850 M955,735 L790,965 M750,830 L770,780 M710,870 L750,940 M1180,730 L1180,830 L1280,775 M1180,830 L1310,975 M1340,1020 L1440,980 M430,875 L560,850 M480,800 L570,805"/>
<path d="M460,320 L545,280 L600,320 L640,420 M560,380 L630,360 M565,400 L640,390 M575,440 L615,420 M130,350 L215,315 L280,350 L290,450 L200,500"/>
<ellipse cx="500" cy="385" rx="25" ry="40" transform="rotate(-15 500 385)"/><ellipse cx="165" cy="432" rx="17" ry="28" transform="rotate(-15 165 432)"/>
<ellipse cx="660" cy="350" rx="22" ry="35" transform="rotate(-15 660 350)"/><ellipse cx="890" cy="60" rx="25" ry="38" transform="rotate(-15 890 60)"/><ellipse cx="1135" cy="545" rx="22" ry="38" transform="rotate(-15 1135 545)"/>
</g>
<ellipse cx="500" cy="385" rx="50" ry="66" transform="rotate(-15 500 385)" style="stroke-width:13"/>
<ellipse cx="162" cy="430" rx="36" ry="56" transform="rotate(-15 162 430)" style="stroke-width:13"/>
</g>
<g class="ln" transform="translate(230,2500) scale(0.5)">
<!-- bolts moved -->
<path class="ld" d="M385,790 L630,650 M622,795 L945,610 M430,492 L595,400 M250,918 L250,1010 M452,975 L452,1075 M818,850 L818,1052"/>
</g>
<text class="lbl" x="461" y="3085">19</text>
<text class="lbl" x="636" y="3079">20</text>

<!-- 18_tileK.svg -->
<g class="ln" transform="translate(1697,1900) scale(0.5)">
<!-- sensor 37 moved -->
<path class="ld" d="M505,468 L590,420 M715,285 L770,258 M598,258 L598,365 M843,248 L843,355 M1042,670 L1042,775 M968,1155 L968,1260 M545,1265 L545,1400 M735,1360 L735,1408"/>
<!-- bracket 40 -->
<path d="M645,626 L712,576 Q729,570 755,585 Q829,574 872,628 Q903,676 905,776 L911,776 L929,752 Q946,737 961,746 Q972,756 968,793 L976,798 Q1020,774 1054,787 Q1080,800 1091,832 Q1106,893 1145,932 Q1180,958 1193,997 L1204,1040 L1191,1069 L1102,1118 Q1072,1125 1059,1101 Q1050,1079 1072,1062 L1061,1010 L1057,938 L994,902 Q981,900 978,915 L959,930 L929,936 L898,962 L885,980 L868,1032 L842,1066 L742,1116 Q707,1120 690,1092 Q682,1071 694,1040 L729,967 Q759,876 762,824 Q760,763 738,737 L714,739 Z"/>
<g class="tn">
<path d="M755,585 Q792,628 777,689 L716,732 M905,776 L907,802 L898,936 M968,793 L965,815 L985,863 L898,941 M870,843 L890,834 L896,863 L881,884 L870,886 Z M880,846 L884,878 M870,889 L838,880 L807,884 L768,910 L759,923 L751,1010 L757,1014 L803,980 L818,980 M807,910 L807,980 M818,915 L818,980 M768,912 L807,906 L896,941 M866,936 L870,948 L880,948"/>
<ellipse cx="727" cy="644" rx="16" ry="22"/>
<ellipse cx="935" cy="782" rx="20" ry="10" transform="rotate(-40 935 782)"/>
<ellipse cx="816" cy="1023" rx="15" ry="22"/><ellipse cx="746" cy="1060" rx="14" ry="22" transform="rotate(15 746 1060)"/><ellipse cx="1087" cy="947" rx="11" ry="17" transform="rotate(-20 1087 947)"/>
<ellipse cx="1160" cy="1050" rx="16" ry="21"/><ellipse cx="1164" cy="1052" rx="9" ry="12"/>
<ellipse cx="1078" cy="1094" rx="10" ry="14"/>
<path d="M1145,1020 Q1165,1005 1185,1020 L1195,1050"/>
</g>
<ellipse cx="1156" cy="1050" rx="26" ry="33" style="stroke-width:5"/>
<ellipse cx="1076" cy="1092" rx="22" ry="28"/>
<path class="ld" d="M290,475 L565,632 M572,636 L600,648 L600,900 L725,965 M1020,802 L1020,897 M820,1022 L885,1060 M205,580 L490,1075 M655,1170 L680,1220"/>
<!-- bolt 41 -->
<path d="M890,1068 Q895,1055 910,1058 L960,1080 L965,1090 Q985,1078 1000,1095 Q1010,1120 998,1145 Q985,1158 965,1148 Q950,1135 950,1112 L900,1095 Q885,1085 890,1068 Z"/>
<path class="tn" d="M905,1060 L900,1092 M918,1064 L913,1098 M931,1069 L926,1102 M944,1074 L939,1106 M965,1090 Q950,1115 965,1148 M975,1085 Q965,1115 978,1150"/><ellipse class="tn" cx="988" cy="1120" rx="8" ry="12"/>
</g>
<text class="lbl" x="1996" y="2017">37</text>
<text class="lbl" x="2118" y="2126">38</text>
<text class="lbl" x="2218" y="2220">40</text>
<text class="lbl" x="2178" y="2582">41</text>
<text class="lbl" x="1969" y="2649">34</text>
<text class="lbl" x="2066" y="2649">36</text>

<!-- 19_tileLM.svg -->
<g class="ln" transform="translate(1697,1050) scale(0.5)">
<!-- screw 17 -->
<path d="M175,148 Q175,120 210,120 Q245,120 245,148 L245,160 L232,168 L232,220 Q210,232 190,220 L190,168 L175,160 Z"/>
<path class="tn" d="M175,150 Q210,172 245,150 M190,185 L232,180 M190,198 L232,193 M190,211 L232,206 M198,135 l10,4 l10,-6 l2,8 l10,2"/>
<path class="ld" d="M258,147 L352,147 M65,730 L520,1042 L670,1042"/>
<path class="ld" d="M760,932 L815,978 L815,1435 L865,1482 L815,1528 L815,1765 L760,1812"/>
<!-- pin 4 -->
<path d="M165,1520 Q165,1495 180,1482 L205,1480 Q222,1495 222,1520 L222,1600 Q222,1625 205,1638 L185,1638 Q165,1625 165,1600 Z"/>
<path class="tn" d="M165,1522 Q193,1535 222,1522 M165,1600 Q193,1612 222,1600"/>
<path class="ld" d="M228,1560 L710,1560 M338,1818 L472,1695 L708,1695"/>
</g>
<text class="lbl" x="1913" y="1142">17</text>
<text class="lbl" x="2063" y="1588">26</text>
<text class="lbl" x="2066" y="1722">17</text>
<text class="lbl" x="2078" y="1789">7</text>
<text class="lbl" x="2151" y="1809">1</text>
<text class="lbl" x="2078" y="1852">4</text>
<text class="lbl" x="2079" y="1917">9</text>

<!-- 20_tileE_cover.svg -->
<g class="ln6" transform="translate(860,1000) scale(0.66667)">
<path class="wf" d="M22,761 L19,750 L34,667 Q56,612 112,608 Q160,600 190,605 L228,580 L232,590 L416,478 L442,506 L455,500 L456,460 L652,352 L682,402 L692,398 L686,334 L881,225 L913,278 L935,272 L934,199 L1050,139 L1061,146 L1069,124 L1065,71 Q1070,56 1088,56 L1110,56 Q1121,62 1121,83 L1125,113 L1140,120 L1148,105 Q1160,94 1178,98 Q1192,105 1191,124 L1194,154 L1211,176 Q1240,215 1253,248 L1286,266 L1298,300 L1324,308 L1346,308 L1388,330 L1391,315 Q1410,302 1429,315 L1433,326 L1470,330 L1504,353 L1511,386 Q1530,381 1541,409 L1549,491 L1493,504 L1410,548 L1365,589 L1313,600 L1170,679 L1140,724 L1118,731 L1035,735 L1001,761 L919,795 L904,844 L881,855 L806,863 L769,893 L705,908 L640,935 L611,945 L600,997 L619,1024 L619,1087 L581,1104 L574,1095 L576,1050 L566,1027 L439,900 L206,769 L139,802 Z"/>
<g class="tn3">
<path d="M52,750 Q56,667 105,645 Q150,636 191,660 L330,787 L457,904 M180,626 L300,735 L439,900 M139,802 L154,757 Q170,768 206,769 M570,1027 Q582,1050 576,1095 M195,626 L315,718 L450,885 L600,997 M340,790 L352,798 M232,590 Q250,640 300,700"/>
<path d="M1535,478 L1485,490 L1402,534 L1358,574 L1308,586 L1165,665 L1135,710 L1112,717 L1030,721 L995,747 L912,782 L896,832 L876,842 L800,850 L762,880 L700,895 L640,920 L625,945"/>
<path d="M330,582 q-12,-20 5,-30 q18,-6 28,18 q6,22 -10,30 M350,597 q-8,10 -20,2"/>
<path d="M395,545 q-12,-20 5,-30 q18,-6 28,18 q6,22 -10,30 M415,560 q-8,10 -20,2"/>
<path d="M560,455 q-12,-20 5,-30 q18,-6 28,18 q6,22 -10,30 M580,470 q-8,10 -20,2"/>
<path d="M622,418 q-12,-20 5,-30 q18,-6 28,18 q6,22 -10,30 M642,433 q-8,10 -20,2"/>
<path d="M790,330 q-12,-20 5,-30 q18,-6 28,18 q6,22 -10,30 M810,345 q-8,10 -20,2"/>
<path d="M852,295 q-12,-20 5,-30 q18,-6 28,18 q6,22 -10,30 M872,310 q-8,10 -20,2"/>
<path d="M250,590 Q270,640 300,660 M280,575 L320,650 M475,470 L520,560 M440,600 Q470,560 500,570 M520,520 Q570,540 590,590 M700,420 Q740,470 790,480 M730,400 L780,470 M905,290 L960,370 M700,640 Q760,650 790,700 M720,690 Q760,700 770,720 M500,770 Q560,790 580,830 M520,760 Q600,800 610,860 M555,860 Q600,880 610,910 M690,780 Q720,820 760,850 M690,800 L740,870 M820,740 Q850,770 880,800 M580,640 Q560,680 600,700 M690,600 Q720,640 700,680 M940,480 Q900,520 920,560"/>
</g>
<g class="md45"><ellipse cx="1010" cy="215" rx="46" ry="26"/><ellipse cx="1010" cy="215" rx="27.6" ry="15.6"/><path d="M964,215 L964,270 A46,26 0 0 0 1056,270 L1056,215"/></g>
<ellipse class="tn3" cx="1010" cy="217" rx="37" ry="19"/>
<g class="md45"><ellipse cx="1092" cy="320" rx="46" ry="26"/><ellipse cx="1092" cy="320" rx="27.6" ry="15.6"/><path d="M1046,320 L1046,375 A46,26 0 0 0 1138,375 L1138,320"/></g>
<ellipse class="tn3" cx="1092" cy="322" rx="37" ry="19"/>
<g class="md45"><ellipse cx="862" cy="447" rx="46" ry="26"/><ellipse cx="862" cy="447" rx="27.6" ry="15.6"/><path d="M816,447 L816,502 A46,26 0 0 0 908,502 L908,447"/></g>
<ellipse class="tn3" cx="862" cy="449" rx="37" ry="19"/>
<g class="md45"><ellipse cx="636" cy="577" rx="46" ry="26"/><ellipse cx="636" cy="577" rx="27.6" ry="15.6"/><path d="M590,577 L590,632 A46,26 0 0 0 682,632 L682,577"/></g>
<ellipse class="tn3" cx="636" cy="579" rx="37" ry="19"/>
<g class="md45"><ellipse cx="407" cy="700" rx="46" ry="26"/><ellipse cx="407" cy="700" rx="27.6" ry="15.6"/><path d="M361,700 L361,755 A46,26 0 0 0 453,755 L453,700"/></g>
<ellipse class="tn3" cx="407" cy="702" rx="37" ry="19"/>
<g class="tn3"><ellipse cx="1092" cy="232" rx="22" ry="12"/><ellipse cx="1092" cy="232" rx="13.2" ry="7.2"/><path d="M1070,232 L1070,282 A22,12 0 0 0 1114,282 L1114,232"/></g>
<g class="tn3"><ellipse cx="862" cy="360" rx="22" ry="12"/><ellipse cx="862" cy="360" rx="13.2" ry="7.2"/><path d="M840,360 L840,420 A22,12 0 0 0 884,420 L884,360"/></g>
<g class="tn3"><ellipse cx="630" cy="485" rx="22" ry="12"/><ellipse cx="630" cy="485" rx="13.2" ry="7.2"/><path d="M608,485 L608,545 A22,12 0 0 0 652,545 L652,485"/></g>
<g class="tn3"><ellipse cx="400" cy="607" rx="22" ry="12"/><ellipse cx="400" cy="607" rx="13.2" ry="7.2"/><path d="M378,607 L378,667 A22,12 0 0 0 422,667 L422,607"/></g>
<g class="tn3"><ellipse cx="505" cy="580" rx="22" ry="12"/><ellipse cx="505" cy="580" rx="13.2" ry="7.2"/><path d="M483,580 L483,650 A22,12 0 0 0 527,650 L527,580"/></g>
<g class="tn3"><ellipse cx="872" cy="660" rx="22" ry="12"/><ellipse cx="872" cy="660" rx="13.2" ry="7.2"/><path d="M850,660 L850,750 A22,12 0 0 0 894,750 L894,660"/></g>
<g class="tn3"><ellipse cx="945" cy="645" rx="22" ry="12"/><ellipse cx="945" cy="645" rx="13.2" ry="7.2"/><path d="M923,645 L923,725 A22,12 0 0 0 967,725 L967,645"/></g>
<g class="tn3"><ellipse cx="770" cy="716" rx="22" ry="12"/><ellipse cx="770" cy="716" rx="13.2" ry="7.2"/><path d="M748,716 L748,806 A22,12 0 0 0 792,806 L792,716"/></g>
<g class="tn3"><ellipse cx="655" cy="785" rx="22" ry="12"/><ellipse cx="655" cy="785" rx="13.2" ry="7.2"/><path d="M633,785 L633,875 A22,12 0 0 0 677,875 L677,785"/></g>
<g class="tn3"><ellipse cx="340" cy="656" rx="22" ry="12"/><ellipse cx="340" cy="656" rx="12" ry="6"/><path d="M775,500 Q775,478 800,478 Q825,480 825,500 L828,550 Q800,565 778,550 Z"/></g>
<g class="tn3"><ellipse cx="937" cy="268" rx="15" ry="9"/><path d="M922,268 L922,274.75 A15,9 0 0 0 952,274.75 L952,268"/><path d="M931,268 l12,0 M934,263.5 l6,9 M940,263.5 l-6,9"/></g>
<g class="tn3"><ellipse cx="710" cy="392" rx="15" ry="9"/><path d="M695,392 L695,398.75 A15,9 0 0 0 725,398.75 L725,392"/><path d="M704,392 l12,0 M707,387.5 l6,9 M713,387.5 l-6,9"/></g>
<g class="tn3"><ellipse cx="707" cy="655" rx="15" ry="9"/><path d="M692,655 L692,661.75 A15,9 0 0 0 722,661.75 L722,655"/><path d="M701,655 l12,0 M704,650.5 l6,9 M710,650.5 l-6,9"/></g>
<g class="tn3"><ellipse cx="805" cy="705" rx="15" ry="9"/><path d="M790,705 L790,711.75 A15,9 0 0 0 820,711.75 L820,705"/><path d="M799,705 l12,0 M802,700.5 l6,9 M808,700.5 l-6,9"/></g>
<g class="tn3"><ellipse cx="480" cy="778" rx="15" ry="9"/><path d="M465,778 L465,784.75 A15,9 0 0 0 495,784.75 L495,778"/><path d="M474,778 l12,0 M477,773.5 l6,9 M483,773.5 l-6,9"/></g>
<g class="tn3"><ellipse cx="580" cy="840" rx="15" ry="9"/><path d="M565,840 L565,846.75 A15,9 0 0 0 595,846.75 L595,840"/><path d="M574,840 l12,0 M577,835.5 l6,9 M583,835.5 l-6,9"/></g>
<g class="tn3"><ellipse cx="1515" cy="394" rx="15" ry="9"/><path d="M1500,394 L1500,400.75 A15,9 0 0 0 1530,400.75 L1530,394"/><path d="M1509,394 l12,0 M1512,389.5 l6,9 M1518,389.5 l-6,9"/></g>
<path class="ld4" d="M1160,0 L1160,415"/>
<path class="tn3" d="M505,285 L505,575"/>
</g>
<text class="lbl" x="1493" y="1635">23</text>
<!-- 21_tileR.svg -->
<g class="ln" transform="translate(860,1380) scale(0.5)">
<!-- tube 23 -->
<path d="M1070,620 L1145,572 L1375,700 Q1394,716 1385,738 L1425,768 Q1436,780 1425,790 L1412,792 L1365,768 Q1352,795 1330,782 L1080,636 Z"/>
<path class="tn" d="M1085,625 Q1150,652 1196,610 M1345,708 Q1318,745 1340,785 M1385,738 Q1368,745 1365,768"/>
<path class="ld" d="M1262,530 L1262,632 M735,1000 L735,1095 M405,1268 L500,1268"/>
<!-- part 5 -->
<path d="M635,1160 Q640,1140 660,1140 L780,1075 L795,1072 L925,1135 L935,1160 L955,1170 L880,1210 L835,1185 L820,1195 L860,1218 L800,1250 L770,1240 L640,1185 Z"/>
<path class="tn" d="M660,1140 L790,1200 L775,1240 M790,1200 L830,1185 M780,1075 L790,1095 L920,1155 L935,1160 M795,1072 L802,1090 L925,1150"/>
<!-- bolt 7 -->
<path d="M344,1105 Q344,1085 382,1085 Q420,1085 420,1105 L420,1138 Q405,1148 405,1155 L405,1410 Q384,1425 362,1410 L362,1155 Q362,1148 344,1138 Z"/>
<path class="tn" d="M344,1108 Q382,1130 420,1108 M362,1155 Q384,1165 405,1155 M362,1250 Q384,1260 405,1250 M362,1262 L405,1258 M362,1276 L405,1272 M362,1290 L405,1286 M362,1304 L405,1300 M362,1318 L405,1314 M362,1332 L405,1328 M362,1346 L405,1342 M362,1360 L405,1356 M362,1374 L405,1370 M362,1388 L405,1384 M362,1402 L405,1398 M368,1100 l8,-6 l8,4 l8,-4 l8,6 l-6,6 l-10,-3 l-10,3 z"/>
</g>

<!-- 22_tileS.svg -->
<g class="ln" transform="translate(1300,1000) scale(0.5)">
<!-- pcv seat double line -->
<path style="stroke-width:17;stroke:#000" d="M310,550 L330,520 L415,490 L425,470 L455,462 L520,500 L590,505 L640,480 L690,420 L690,350 Q700,320 740,322 L800,345 L835,365 L850,405 L885,420 L910,418 L965,448 L1030,445 L1075,450 L1120,478 L1130,515 L1120,535 L960,600 L895,585 L655,720 L650,760 L625,790 L590,820 L545,830 L490,815 L340,830 L300,800 L295,770 L310,680 L340,650 L360,640 L365,600 L340,590 Z"/>
<path style="stroke-width:9;stroke:#fff" d="M310,550 L330,520 L415,490 L425,470 L455,462 L520,500 L590,505 L640,480 L690,420 L690,350 Q700,320 740,322 L800,345 L835,365 L850,405 L885,420 L910,418 L965,448 L1030,445 L1075,450 L1120,478 L1130,515 L1120,535 L960,600 L895,585 L655,720 L650,760 L625,790 L590,820 L545,830 L490,815 L340,830 L300,800 L295,770 L310,680 L340,650 L360,640 L365,600 L340,590 Z"/>
<g class="tn">
<path d="M735,345 L800,372 L830,402 L832,530 M720,480 L735,545 L820,610 L1005,515 L1000,500 L900,450 L860,422 L830,402 M720,480 Q725,360 770,352 M690,500 L715,470 M610,560 L615,630 L695,672 M735,545 L730,500"/>
<path d="M1015,465 Q1040,450 1070,455 Q1100,470 1095,490 Q1070,505 1040,500 Q1010,490 1015,465 Z"/>
<ellipse cx="998" cy="430" rx="18" ry="12"/>
<path d="M655,720 L660,860 M890,612 L895,712 M960,600 L970,700 M1030,540 L1040,612 M1105,530 L1110,640 L1000,690 L980,722 M1110,640 L1160,625 M650,745 L885,630 L890,612 M700,800 L850,735 M660,860 L680,830 L940,700 L990,660 M495,830 L500,900 M630,800 L640,920 L600,945 L440,930 L420,900"/>
<ellipse cx="555" cy="800" rx="45" ry="28"/><ellipse cx="555" cy="800" rx="25" ry="16"/>
<ellipse cx="628" cy="762" rx="12" ry="9"/><ellipse cx="930" cy="595" rx="12" ry="9"/><ellipse cx="405" cy="620" rx="14" ry="10"/><ellipse cx="450" cy="482" rx="14" ry="10"/><ellipse cx="638" cy="342" rx="14" ry="10"/><ellipse cx="672" cy="458" rx="10" ry="14"/>
<path d="M370,575 L490,530 L530,545 L415,592 Z M340,560 Q345,530 375,525 L425,508 L455,522 M465,650 L470,700 M490,690 Q520,720 525,760 M360,745 L500,775 M410,705 L500,770 M340,650 Q320,700 345,745 M505,620 Q515,660 508,700 M610,330 Q640,320 660,350 L665,380"/>
<!-- filler towers -->
<path d="M545,165 Q580,205 620,150 M540,165 L530,210 L555,255 M620,150 L650,240 L632,320 M650,150 L655,330 M712,205 Q680,260 690,300 M735,235 L705,288 M745,260 Q770,290 775,320"/>
<ellipse cx="680" cy="152" rx="28" ry="17"/><ellipse cx="682" cy="152" rx="14" ry="9"/>
<ellipse cx="585" cy="212" rx="11" ry="6"/>
</g>
<ellipse cx="998" cy="430" rx="30" ry="20" class="tn" style="stroke-width:5"/>
</g>

<!-- 23_zoomR.svg -->
<g class="z39" transform="translate(1700,2420) scale(0.2551)">
<path d="M110,550 Q115,440 190,400 Q260,385 295,430 Q305,500 300,600 L295,760 Q300,800 340,830 Q385,830 395,860 Q395,900 360,950 L330,960 Q285,905 250,930 Q180,975 155,1035 M110,550 Q130,700 150,800 Q160,860 135,920 L80,1000 Q55,1020 58,1060 Q65,1095 100,1095 Q120,1090 128,1075"/>
<g class="z39t">
<ellipse cx="205" cy="520" rx="50" ry="70" transform="rotate(15 205 520)"/><ellipse cx="218" cy="695" rx="17" ry="30" transform="rotate(25 218 695)"/><ellipse cx="350" cy="895" rx="17" ry="32" transform="rotate(25 350 895)"/><ellipse cx="108" cy="1035" rx="17" ry="28" transform="rotate(20 108 1035)"/>
<path d="M155,885 L300,805 M105,1042 L200,1090"/>
</g>
<path d="M205,1085 Q215,1065 240,1070 L345,1120 L350,1135 Q395,1115 425,1140 Q440,1180 420,1230 Q395,1265 350,1260 Q315,1240 320,1195 L215,1140 Q195,1120 205,1085 Z"/>
<g class="z39t">
<path d="M235,1072 Q222,1100 238,1150 M260,1082 Q247,1112 262,1162 M285,1093 Q272,1122 288,1175 M310,1105 Q297,1135 312,1188 M350,1135 Q325,1170 345,1255 M368,1128 Q345,1170 365,1260"/>
<ellipse cx="390" cy="1198" rx="32" ry="50" transform="rotate(20 390 1198)"/><ellipse cx="396" cy="1206" rx="15" ry="24" transform="rotate(20 396 1206)"/>
</g>
<path d="M930,150 Q940,95 1000,80 L1035,78 L1070,110 L1110,155 L1130,165 L1270,158 Q1315,185 1310,225 L1290,255 L1250,285 L1160,320 L1135,390 L955,455 Q915,430 910,370 L925,300 L940,290 L1000,265 L985,215 L960,190 Z"/>
<g class="z39t">
<path d="M985,215 Q1040,150 1110,155 M1000,190 Q1060,170 1080,135 M945,300 Q990,340 975,440 M985,355 L1150,310 M1040,270 Q1090,210 1140,240 L1160,290 L1160,320 M1035,245 Q1100,190 1200,185 L1270,160 M1000,265 Q1020,250 1040,270"/>
<ellipse cx="1262" cy="228" rx="30" ry="18" transform="rotate(-20 1262 228)"/>
</g>
<path d="M1315,395 Q1330,365 1370,370 L1385,390 L1450,510 L1495,505 Q1525,530 1515,575 Q1480,625 1425,630 Q1385,620 1375,580 L1380,545 L1320,430 Z"/>
<g class="z39t">
<path d="M1322,405 L1378,385 M1333,430 L1392,408 M1346,455 L1405,432 M1359,480 L1418,456 M1372,505 L1432,480 M1380,545 Q1420,560 1495,505 M1430,565 l12,12 l16,-6 l-2,16 l14,8 l-16,6 l-4,16 l-12,-12 l-16,4 l6,-16 l-12,-12 z"/>
<ellipse cx="1448" cy="582" rx="62" ry="36" transform="rotate(-15 1448 582)"/>
</g>
</g>

<!-- 24_zoomS34.svg -->
<g class="z52" transform="translate(1180,800) scale(0.19133)">
<path d="M590,215 Q600,160 695,152 Q790,160 797,215 L797,265 L760,300 L757,500 Q700,545 643,500 L643,300 L597,268 Z"/>
<g class="z52t">
<path d="M597,225 Q695,290 797,225 M643,300 Q700,320 757,300 M643,340 Q700,362 757,340 M643,372 Q700,394 757,372 M643,404 Q700,426 757,404 M643,436 Q700,458 757,436 M643,468 Q700,490 757,468 M695,180 l14,18 l24,-2 l-12,18 l12,18 l-24,-2 l-14,18 l-14,-18 l-24,2 l12,-18 l-12,-18 l24,2 z"/>
</g>
<path d="M660,675 Q610,690 600,730 L600,790 L770,915 L785,960 L800,1070 Q890,1150 975,1070 L985,960 L990,915 L1010,910 L1060,930 L1085,935 L1180,850 Q1215,790 1200,740 L990,655 L940,660 L875,710 L730,680"/>
<g class="z52t">
<path d="M625,760 L780,870 Q830,890 920,880 L940,870 M875,710 Q810,740 820,830 Q830,880 900,880 M850,740 L1075,820 M1075,820 Q1040,870 1065,925 M1075,820 L1190,740 M785,930 Q890,980 990,925 M795,985 Q890,1020 980,975"/>
<ellipse cx="697" cy="737" rx="45" ry="22"/>
</g>
</g>

<!-- 25_zoomBolts.svg -->
<g class="z46" transform="translate(310,2720) scale(0.21684)">
<path d="M85,330 Q90,250 180,220 Q240,215 265,235 L540,80 Q600,85 625,130 Q640,180 630,215 L345,380 Q350,440 320,470 Q290,510 230,515 Q120,480 85,330 Z"/>
<g class="z46t"><ellipse cx="195" cy="375" rx="60" ry="82" transform="rotate(-25 195 375)"/><ellipse cx="200" cy="380" rx="42" ry="60" transform="rotate(-25 200 380)"/>
<path d="M265,235 Q330,300 345,380 M225,222 Q300,320 315,470 M320,215 q45,40 35,112 M355,195 q45,40 35,112 M390,175 q45,40 35,112 M425,155 q45,40 35,112 M460,135 q45,40 35,112 M495,115 q45,40 35,112 M530,95 q45,40 35,112"/></g>
<path d="M130,985 Q130,910 200,890 Q250,895 270,915 L450,800 Q500,805 520,850 L520,890 L320,1010 Q310,1080 250,1100 Q150,1090 130,985 Z"/>
<g class="z46t"><path d="M270,915 Q310,960 320,1010 M345,870 q32,32 22,88 M379,851 q32,32 22,88 M413,832 q32,32 22,88 M447,813 q32,32 22,88 M481,794 q32,32 22,88 M165,980 l22,10 l14,-20 l6,24 l24,4 l-20,14 l6,24 l-20,-14 l-22,12 l8,-24 z"/></g>
<path d="M495,1030 Q500,950 590,930 Q640,925 670,945 L950,790 Q1010,800 1035,850 Q1045,900 1030,935 L750,1100 Q755,1150 730,1180 Q700,1220 640,1225 Q530,1190 495,1030 Z"/>
<g class="z46t"><ellipse cx="600" cy="1088" rx="60" ry="82" transform="rotate(-25 600 1088)"/><ellipse cx="605" cy="1093" rx="42" ry="60" transform="rotate(-25 605 1093)"/>
<path d="M670,945 Q735,1010 750,1100 M632,932 Q705,1030 722,1180 M735,925 q45,40 35,112 M770,905 q45,40 35,112 M805,885 q45,40 35,112 M840,865 q45,40 35,112 M875,845 q45,40 35,112 M910,825 q45,40 35,112 M945,805 q45,40 35,112"/></g>
</g>

<!-- 26_zoom37.svg -->
<g class="z65" transform="translate(1930,1960) scale(0.15306)">
<path d="M330,960 L335,895 L350,880 L455,825 L460,800 L510,760 L595,525 Q640,475 700,475 Q780,510 810,600 L830,775 L860,790 L890,830 L885,900 L855,1160 Q800,1185 750,1165 L615,1060 L605,1000 L560,995 L470,1060 Q420,1075 380,1040"/>
<g class="z65t">
<path d="M400,885 Q490,940 480,1040 M510,780 Q600,830 630,960 M520,770 Q620,820 640,950 L600,995 M540,740 Q600,700 650,720 Q740,790 740,900 Q720,950 650,975 M670,510 Q760,570 765,700 L775,950 L740,985 L660,990 M700,500 Q800,570 815,800 L825,900 L790,950"/>
</g>
<ellipse cx="680" cy="610" rx="36" ry="55" transform="rotate(-20 680 610)" style="stroke-width:16"/>
<path d="M1015,370 Q1020,330 1060,315 L1195,245 L1200,190 Q1230,140 1290,140 Q1370,170 1385,250 Q1385,320 1340,345 Q1300,360 1265,340 L1100,430 Q1050,440 1020,400 Z"/>
<g class="z65t">
<ellipse cx="1068" cy="380" rx="22" ry="34" transform="rotate(-20 1068 380)"/>
<path d="M1085,322 q25,35 12,78 M1112,308 q25,35 12,78 M1139,294 q25,35 12,78 M1166,280 q25,35 12,78 M1193,266 q25,35 12,78 M1220,252 q25,35 12,78 M1195,245 Q1250,290 1265,340"/>
<ellipse cx="1295" cy="245" rx="45" ry="72" transform="rotate(-20 1295 245)"/><ellipse cx="1300" cy="245" rx="25" ry="40" transform="rotate(-20 1300 245)"/>
</g>
</g>

<!-- 30_tileJ_head.svg -->
<g class="ln5" transform="translate(800,1820) scale(0.75)">
<path class="wf" d="M115,620 L1150,28 L1175,55 L1225,45 L1245,95 L1275,90 L1290,125 L1420,185 L1430,230 L1465,220 L1475,250 L1505,275 L1510,300 L1495,420 L1500,738 L660,1213 L620,1205 L560,1187 L500,1205 L453,1220 L420,1193 L387,1240 L340,1267 L303,1273 L290,1265 L260,1270 L247,1253 L87,1157 L60,1150 L53,1117 L37,1093 L35,1027 L53,907 L83,787 L73,760 L77,700 L97,670 Z"/>
<path d="M470,822 L1470,290 L1505,275 M470,822 L495,840 M495,840 L1480,318"/>
<g class="tn27">
<path d="M660,1215 L655,1130 Q640,1100 665,1085 L700,1060 M580,985 Q585,960 620,945 L660,925 M600,1140 Q570,1050 580,985 M560,905 L575,940 L600,890 M1010,830 l35,-18 l5,22 l-35,18 z M1025,880 l35,-18 l5,18 l-35,18 z M760,895 a8,8 0 1 0 1,0 M965,775 a8,8 0 1 0 1,0 M1180,655 a8,8 0 1 0 1,0 M775,940 a6,6 0 1 0 1,0"/>
<path d="M822,722 L955,650 Q968,648 966,662 L962,715 L830,790 Q818,790 818,775 Z" style="stroke-width:5.3"/>
<path d="M830,730 L955,662 L952,710 L835,778 Z"/>
<ellipse cx="865" cy="745" rx="12" ry="14" style="stroke-width:4.5"/>
<ellipse cx="893" cy="730" rx="12" ry="14" style="stroke-width:4.5"/>
<ellipse cx="922" cy="715" rx="12" ry="14" style="stroke-width:4.5"/>
<path d="M875,775 L875,800 M905,758 L905,790 M710,775 Q720,800 745,770 L760,780 L775,830 L790,760 Q810,770 820,750 M925,640 Q940,660 965,635 L985,640 L1000,700 L1015,625 Q1040,630 1050,610 M1130,520 Q1150,545 1175,515 L1195,525 L1205,590 L1220,505 Q1245,510 1255,490"/>
<path d="M585,850 Q605,820 640,815 L680,790 Q705,790 700,820 L680,850 L640,870 L615,900 L575,915 Q555,910 560,890 Z" style="stroke-width:4.5"/>
<ellipse cx="608" cy="868" rx="16" ry="13" style="stroke-width:5.3" transform="rotate(-30 608 868)"/><ellipse cx="672" cy="822" rx="18" ry="24" transform="rotate(40 672 822)"/>
<path d="M560,890 L555,925 L580,935 L600,900"/>
<path d="M1318,430 Q1330,400 1365,398 L1390,395 Q1412,400 1408,425 L1390,450 L1345,470 Q1318,465 1318,430 Z M1308,500 Q1320,470 1360,462 L1385,458 Q1400,470 1385,485 L1340,515 Q1312,525 1308,500 Z" style="stroke-width:4.5"/>
<ellipse cx="1340" cy="440" rx="15" ry="13"/><ellipse cx="1388" cy="415" rx="15" ry="13" style="stroke-width:5.3"/><ellipse cx="1335" cy="497" rx="16" ry="10" transform="rotate(-30 1335 497)" style="stroke-width:5.3"/>
<path d="M1190,520 L1230,510 L1225,560 L1195,575 Z M1200,528 L1220,522 L1217,555 L1203,562 Z M1300,400 L1310,470 M1420,540 Q1450,600 1480,640 M1400,520 L1440,650 L1480,640 M1495,420 L1460,440 L1440,480 M1380,700 L1400,760 L1430,770 L1420,720"/>
<path d="M1165,100 Q1150,130 1165,175 Q1180,200 1200,160 M1130,170 Q1150,130 1175,150 L1185,240 M1225,45 L1220,140 L1260,170 M1290,125 L1285,200 L1330,220 M1245,95 L1250,150 M1420,185 L1380,215 L1390,280 L1430,300 M1150,28 L1150,90 L1120,110 M1275,310 L1300,300 L1310,330 L1280,345 Z M1000,365 Q1020,350 1040,365 L1045,395 Q1020,410 1000,395 Z"/>
<ellipse cx="1155" cy="75" rx="8" ry="7"/><ellipse cx="1270" cy="155" rx="8" ry="7"/><ellipse cx="1320" cy="180" rx="8" ry="7"/><ellipse cx="1440" cy="255" rx="8" ry="7"/>
</g>
<path class="ld33" d="M455,1225 L455,1310 M205,462 L275,525 M610,870 L1020,1090 L1075,1065 L1235,1150 M1420,185 L1510,100 L1570,100 M1395,425 L1575,525 M1330,495 L1525,830 M1535,420 L1575,398 M142,305 L142,365 M1310,992 L1355,992 M1350,1198 L1395,1198 M565,1290 L625,1290 M1345,12 L1575,12"/>
<path d="M1308,-10 L1308,45 Q1325,75 1345,45 L1345,-10"/>
<path class="tn27" d="M1308,40 Q1326,50 1345,40"/>
</g>
<text class="lbl" x="1227" y="1869">5</text>
<text class="lbl" x="1134" y="2033">7</text>
<text class="lbl" x="1856" y="2580">39</text>
<text class="lbl" x="1884" y="2736">41</text>
<text class="lbl" x="1304" y="2805">30</text>
<!-- 31_tileP_headdetail.svg -->
<clipPath id="headclip"><path transform="translate(800,1820) scale(0.75)" d="M115,620 L1150,28 L1175,55 L1225,45 L1245,95 L1275,90 L1290,125 L1420,185 L1430,230 L1465,220 L1475,250 L1505,275 L1510,300 L1495,420 L1500,738 L660,1213 L620,1205 L560,1187 L500,1205 L453,1220 L420,1193 L387,1240 L340,1267 L303,1273 L290,1265 L260,1270 L247,1253 L87,1157 L60,1150 L53,1117 L37,1093 L35,1027 L53,907 L83,787 L73,760 L77,700 L97,670 Z"/></clipPath><g clip-path="url(#headclip)">
<g class="tn" style="fill:none;stroke:#000;stroke-linecap:round;stroke-linejoin:round" transform="translate(820,2050) scale(0.5)">
<g transform="translate(665,510)">
<path style="stroke-width:5" d="M-145,-58 L-95,-85 L-42,-62 Q0,-78 52,-50 Q82,-22 82,8 L128,52 L130,92 L80,120 L75,80 L40,58 Q0,72 -45,52 Q-80,22 -78,-18 L-118,-38 Z"/>
<path d="M82,8 L40,32 M128,52 L75,80"/>
<ellipse cx="0" cy="0" rx="56" ry="46" style="stroke-width:7"/>
<ellipse cx="-95" cy="-58" rx="12" ry="10"/><ellipse cx="72" cy="50" rx="12" ry="10"/>
<path d="M-118,-38 L-112,120 M-78,10 L-70,135 M-45,52 L-40,150 M40,60 L48,175 M80,120 L84,200 M130,92 L132,150 L84,200"/>
<path d="M-45,150 Q-30,95 -5,92 Q22,95 35,165 M-25,150 Q-15,115 -2,112 Q12,115 20,160"/>

<path style="stroke-width:5" d="M-260,-130 L-230,-105 L-155,-140 L-190,-175 L84,-333"/>
<path d="M-230,-105 L-222,0 M-155,-140 L-150,-50 M-190,-175 L-230,-150 L-260,-130"/>
<ellipse cx="-210" cy="-138" rx="12" ry="10"/>
<path d="M20,-85 Q25,-160 55,-170 Q90,-165 100,-95 L105,-40 M150,-170 Q160,-215 185,-215 Q210,-210 215,-160 M-60,-100 Q-50,-150 -20,-160 L0,-80"/>
<path d="M170,-75 L235,-110 L282,-85 L218,-48 Z M160,5 L262,-45 M135,50 L190,82 L290,30 M190,82 L195,110 L290,60 M150,-20 L200,-40"/>
<path style="stroke-width:5" d="M150,120 L190,100 L225,125 L225,150 L188,172 L150,150 Z"/>
<ellipse cx="186" cy="132" rx="16" ry="13" style="stroke-width:6"/>
<path d="M100,-25 L150,-45 Q180,-42 190,-10 L200,30 M100,-25 Q122,0 115,40 L200,30 M-60,232 L60,172 M-75,262 L30,210 M140,-120 Q150,-60 130,-20 M230,-150 L240,-112 M-190,-60 Q-180,20 -150,60 M-100,-130 L-95,-88 M55,-170 Q60,-120 50,-80 M185,-215 Q190,-180 180,-150"/>
<path d="M-222,0 Q-200,90 -130,130 M-150,-50 Q-140,40 -112,60 M-300,60 Q-295,-10 -265,-20 Q-228,-15 -222,40"/>
<ellipse cx="-12" cy="192" rx="46" ry="43" style="stroke-width:7;fill:#fff"/><ellipse cx="-8" cy="196" rx="28" ry="26"/>
<ellipse cx="0" cy="0" rx="56" ry="46" style="stroke-width:7;fill:#fff"/>
</g>
<g transform="translate(1009,307)">
<path style="stroke-width:5" d="M-145,-58 L-95,-85 L-42,-62 Q0,-78 52,-50 Q82,-22 82,8 L128,52 L130,92 L80,120 L75,80 L40,58 Q0,72 -45,52 Q-80,22 -78,-18 L-118,-38 Z"/>
<path d="M82,8 L40,32 M128,52 L75,80"/>
<ellipse cx="0" cy="0" rx="56" ry="46" style="stroke-width:7"/>
<ellipse cx="-95" cy="-58" rx="12" ry="10"/><ellipse cx="72" cy="50" rx="12" ry="10"/>
<path d="M-118,-38 L-112,120 M-78,10 L-70,135 M-45,52 L-40,150 M40,60 L48,175 M80,120 L84,200 M130,92 L132,150 L84,200"/>
<path d="M-45,150 Q-30,95 -5,92 Q22,95 35,165 M-25,150 Q-15,115 -2,112 Q12,115 20,160"/>

<path style="stroke-width:5" d="M-260,-130 L-230,-105 L-155,-140 L-190,-175 L84,-333"/>
<path d="M-230,-105 L-222,0 M-155,-140 L-150,-50 M-190,-175 L-230,-150 L-260,-130"/>
<ellipse cx="-210" cy="-138" rx="12" ry="10"/>
<path d="M20,-85 Q25,-160 55,-170 Q90,-165 100,-95 L105,-40 M150,-170 Q160,-215 185,-215 Q210,-210 215,-160 M-60,-100 Q-50,-150 -20,-160 L0,-80"/>
<path d="M170,-75 L235,-110 L282,-85 L218,-48 Z M160,5 L262,-45 M135,50 L190,82 L290,30 M190,82 L195,110 L290,60 M150,-20 L200,-40"/>
<path style="stroke-width:5" d="M150,120 L190,100 L225,125 L225,150 L188,172 L150,150 Z"/>
<ellipse cx="186" cy="132" rx="16" ry="13" style="stroke-width:6"/>
<path d="M100,-25 L150,-45 Q180,-42 190,-10 L200,30 M100,-25 Q122,0 115,40 L200,30 M-60,232 L60,172 M-75,262 L30,210 M140,-120 Q150,-60 130,-20 M230,-150 L240,-112 M-190,-60 Q-180,20 -150,60 M-100,-130 L-95,-88 M55,-170 Q60,-120 50,-80 M185,-215 Q190,-180 180,-150"/>
<path d="M-222,0 Q-200,90 -130,130 M-150,-50 Q-140,40 -112,60 M-300,60 Q-295,-10 -265,-20 Q-228,-15 -222,40"/>
<ellipse cx="-12" cy="192" rx="46" ry="43" style="stroke-width:7;fill:#fff"/><ellipse cx="-8" cy="196" rx="28" ry="26"/>
<ellipse cx="0" cy="0" rx="56" ry="46" style="stroke-width:7;fill:#fff"/>
</g>
<g transform="translate(1353,104)">
<path style="stroke-width:5" d="M-145,-58 L-95,-85 L-42,-62 Q0,-78 52,-50 Q82,-22 82,8 L128,52 L130,92 L80,120 L75,80 L40,58 Q0,72 -45,52 Q-80,22 -78,-18 L-118,-38 Z"/>
<path d="M82,8 L40,32 M128,52 L75,80"/>
<ellipse cx="0" cy="0" rx="56" ry="46" style="stroke-width:7"/>
<ellipse cx="-95" cy="-58" rx="12" ry="10"/><ellipse cx="72" cy="50" rx="12" ry="10"/>
<path d="M-118,-38 L-112,120 M-78,10 L-70,135 M-45,52 L-40,150 M40,60 L48,175 M80,120 L84,200 M130,92 L132,150 L84,200"/>
<path d="M-45,150 Q-30,95 -5,92 Q22,95 35,165 M-25,150 Q-15,115 -2,112 Q12,115 20,160"/>

<path style="stroke-width:5" d="M-260,-130 L-230,-105 L-155,-140 L-190,-175 L84,-333"/>
<path d="M-230,-105 L-222,0 M-155,-140 L-150,-50 M-190,-175 L-230,-150 L-260,-130"/>
<ellipse cx="-210" cy="-138" rx="12" ry="10"/>
<path d="M20,-85 Q25,-160 55,-170 Q90,-165 100,-95 L105,-40 M150,-170 Q160,-215 185,-215 Q210,-210 215,-160 M-60,-100 Q-50,-150 -20,-160 L0,-80"/>
<path d="M170,-75 L235,-110 L282,-85 L218,-48 Z M160,5 L262,-45 M135,50 L190,82 L290,30 M190,82 L195,110 L290,60 M150,-20 L200,-40"/>
<path style="stroke-width:5" d="M150,120 L190,100 L225,125 L225,150 L188,172 L150,150 Z"/>
<ellipse cx="186" cy="132" rx="16" ry="13" style="stroke-width:6"/>
<path d="M100,-25 L150,-45 Q180,-42 190,-10 L200,30 M100,-25 Q122,0 115,40 L200,30 M-60,232 L60,172 M-75,262 L30,210 M140,-120 Q150,-60 130,-20 M230,-150 L240,-112 M-190,-60 Q-180,20 -150,60 M-100,-130 L-95,-88 M55,-170 Q60,-120 50,-80 M185,-215 Q190,-180 180,-150"/>
<path d="M-222,0 Q-200,90 -130,130 M-150,-50 Q-140,40 -112,60 M-300,60 Q-295,-10 -265,-20 Q-228,-15 -222,40"/>
<ellipse cx="-12" cy="192" rx="46" ry="43" style="stroke-width:7;fill:#fff"/><ellipse cx="-8" cy="196" rx="28" ry="26"/>
<ellipse cx="0" cy="0" rx="56" ry="46" style="stroke-width:7;fill:#fff"/>
</g>
<g transform="translate(1697,-99)">
<path style="stroke-width:5" d="M-145,-58 L-95,-85 L-42,-62 Q0,-78 52,-50 Q82,-22 82,8 L128,52 L130,92 L80,120 L75,80 L40,58 Q0,72 -45,52 Q-80,22 -78,-18 L-118,-38 Z"/>
<path d="M82,8 L40,32 M128,52 L75,80"/>
<ellipse cx="0" cy="0" rx="56" ry="46" style="stroke-width:7"/>
<ellipse cx="-95" cy="-58" rx="12" ry="10"/><ellipse cx="72" cy="50" rx="12" ry="10"/>
<path d="M-118,-38 L-112,120 M-78,10 L-70,135 M-45,52 L-40,150 M40,60 L48,175 M80,120 L84,200 M130,92 L132,150 L84,200"/>
<path d="M-45,150 Q-30,95 -5,92 Q22,95 35,165 M-25,150 Q-15,115 -2,112 Q12,115 20,160"/>

<path style="stroke-width:5" d="M-260,-130 L-230,-105 L-155,-140 L-190,-175 L84,-333"/>
<path d="M-230,-105 L-222,0 M-155,-140 L-150,-50 M-190,-175 L-230,-150 L-260,-130"/>
<ellipse cx="-210" cy="-138" rx="12" ry="10"/>
<path d="M20,-85 Q25,-160 55,-170 Q90,-165 100,-95 L105,-40 M150,-170 Q160,-215 185,-215 Q210,-210 215,-160 M-60,-100 Q-50,-150 -20,-160 L0,-80"/>
<path d="M170,-75 L235,-110 L282,-85 L218,-48 Z M160,5 L262,-45 M135,50 L190,82 L290,30 M190,82 L195,110 L290,60 M150,-20 L200,-40"/>
<path style="stroke-width:5" d="M150,120 L190,100 L225,125 L225,150 L188,172 L150,150 Z"/>
<ellipse cx="186" cy="132" rx="16" ry="13" style="stroke-width:6"/>
<path d="M100,-25 L150,-45 Q180,-42 190,-10 L200,30 M100,-25 Q122,0 115,40 L200,30 M-60,232 L60,172 M-75,262 L30,210 M140,-120 Q150,-60 130,-20 M230,-150 L240,-112 M-190,-60 Q-180,20 -150,60 M-100,-130 L-95,-88 M55,-170 Q60,-120 50,-80 M185,-215 Q190,-180 180,-150"/>
<path d="M-222,0 Q-200,90 -130,130 M-150,-50 Q-140,40 -112,60 M-300,60 Q-295,-10 -265,-20 Q-228,-15 -222,40"/>
<ellipse cx="-12" cy="192" rx="46" ry="43" style="stroke-width:7;fill:#fff"/><ellipse cx="-8" cy="196" rx="28" ry="26"/>
<ellipse cx="0" cy="0" rx="56" ry="46" style="stroke-width:7;fill:#fff"/>
</g>

<path d="M130,470 L180,500 L160,520 L150,590 Q112,650 120,740 L90,870 L55,1050 L50,1140 M180,500 Q200,620 270,720 Q310,770 380,800 M260,470 L270,640 Q290,720 340,760 M280,475 L285,560 M330,480 L345,560 Q380,520 400,510 Q440,500 455,570 L470,640 M370,600 Q380,540 405,535 Q430,540 440,600"/>
<path d="M340,760 Q350,740 400,750 L400,810 L440,830 L440,770 L490,790 L500,730 M340,760 Q330,790 380,800 L400,810 M470,680 L480,730 M500,730 Q520,690 540,720 L545,780 Q560,830 600,840 M540,720 Q590,700 600,760 L610,830"/>
<ellipse cx="425" cy="1030" rx="58" ry="82"/>
<path d="M270,770 L265,1080 M245,920 L250,1030 L290,1050 M160,600 Q140,800 120,1010 M185,560 Q175,800 190,1020 L200,1060 M120,1010 L125,1095"/>
<path style="stroke-width:5" d="M125,1010 L295,1105 L415,1040 M125,1010 L0,1075"/>
<path d="M50,1140 L60,1165 L100,1180 L102,1200 L70,1222 L55,1260 M60,1140 L125,1095 L140,1078 M140,1078 L190,1125 L480,1290 M190,1125 L190,1222 M310,1200 L310,1288 M430,1265 L430,1352 M175,1222 L200,1238 L260,1212 L300,1232 M290,1292 L320,1302 L380,1286 L410,1302 M100,1200 L350,1345 L375,1420 M350,1345 L400,1330 L410,1302 M175,1222 L170,1250 L200,1265 L260,1240 L300,1260 M290,1292 L285,1318 L320,1330 L380,1315"/>
<ellipse cx="100" cy="1160" rx="9" ry="7"/><ellipse cx="75" cy="1222" rx="10" ry="16"/><ellipse cx="375" cy="1388" rx="10" ry="16"/><ellipse cx="198" cy="1215" rx="7" ry="5"/><ellipse cx="318" cy="1282" rx="7" ry="5"/>
<path style="stroke-width:6" d="M665,770 L700,800 L690,850 L650,960 L600,1100 L560,1200 L520,1262 M190,1125 L480,1290 L640,1378 L640,1560"/>
<path d="M680,860 L640,960 L590,1095 L545,1200 L500,1270 M740,870 L720,950 L700,1100 L690,1250 L720,1290 M700,800 L740,830 L760,880 M540,1130 L560,1160 M610,1000 Q640,1010 650,960 M590,1330 Q640,1300 700,1292 Q760,1300 800,1320 M480,1290 L440,1400 M520,1262 L470,1440 M560,1200 Q600,1250 590,1330"/>

<g transform="translate(1014,1020)">
<path d="M-110,30 Q-130,50 -120,70 Q-100,90 -70,80 L-50,70 Q-30,90 0,80 L90,30 Q110,10 100,-10 L110,-20 Q125,-50 100,-60 L80,-60 Q70,-80 40,-75 L-50,-30 Q-70,-10 -65,10 Q-100,10 -110,30 Z"/>

<path d="M80,122 L125,155 L130,220 L100,235 L70,190"/><ellipse cx="105" cy="208" rx="12" ry="15"/>
<path d="M215,30 L218,80 Q230,95 245,80 L242,25 M170,90 L215,110 M260,60 L300,40"/>
<path d="M0,-350 Q5,-300 30,-290 Q60,-290 70,-320 L90,-300 L115,-190 L145,-320 Q170,-300 200,-330 L230,-340 M95,-300 L118,-215 L138,-318 M-10,-330 L-5,-180 M240,-340 L245,-250"/>
<path d="M-160,120 L-100,150 L-20,190 M130,0 L180,-30 M-140,-60 Q-120,-100 -80,-120 L-60,-200"/>
<ellipse cx="75" cy="-140" rx="10" ry="12"/>
<path d="M-150,212 L-90,232 L160,92 L168,105 M-150,230 L-92,250 L160,110 M85,190 L92,262 M125,220 L130,250 M-30,-200 Q-10,-170 20,-180 M150,-210 Q175,-185 200,-205 M30,-290 L35,-200 M70,-320 L75,-230 M-120,70 L-125,130 M100,-10 L105,60 M-65,10 L-70,-30"/>
<ellipse cx="50" cy="150" rx="43" ry="46" style="fill:#fff"/><ellipse cx="50" cy="150" rx="35" ry="38" style="stroke-width:7"/><ellipse cx="52" cy="152" rx="20" ry="22" style="stroke-width:5"/>
</g>
<g transform="translate(1332,835)">
<path d="M-110,30 Q-130,50 -120,70 Q-100,90 -70,80 L-50,70 Q-30,90 0,80 L90,30 Q110,10 100,-10 L110,-20 Q125,-50 100,-60 L80,-60 Q70,-80 40,-75 L-50,-30 Q-70,-10 -65,10 Q-100,10 -110,30 Z"/>

<path d="M80,122 L125,155 L130,220 L100,235 L70,190"/><ellipse cx="105" cy="208" rx="12" ry="15"/>
<path d="M215,30 L218,80 Q230,95 245,80 L242,25 M170,90 L215,110 M260,60 L300,40"/>
<path d="M0,-350 Q5,-300 30,-290 Q60,-290 70,-320 L90,-300 L115,-190 L145,-320 Q170,-300 200,-330 L230,-340 M95,-300 L118,-215 L138,-318 M-10,-330 L-5,-180 M240,-340 L245,-250"/>
<path d="M-160,120 L-100,150 L-20,190 M130,0 L180,-30 M-140,-60 Q-120,-100 -80,-120 L-60,-200"/>
<ellipse cx="75" cy="-140" rx="10" ry="12"/>
<path d="M-150,212 L-90,232 L160,92 L168,105 M-150,230 L-92,250 L160,110 M85,190 L92,262 M125,220 L130,250 M-30,-200 Q-10,-170 20,-180 M150,-210 Q175,-185 200,-205 M30,-290 L35,-200 M70,-320 L75,-230 M-120,70 L-125,130 M100,-10 L105,60 M-65,10 L-70,-30"/>
<ellipse cx="50" cy="150" rx="43" ry="46" style="fill:#fff"/><ellipse cx="50" cy="150" rx="35" ry="38" style="stroke-width:7"/><ellipse cx="52" cy="152" rx="20" ry="22" style="stroke-width:5"/>
</g>
<g transform="translate(1650,650)">
<path d="M-110,30 Q-130,50 -120,70 Q-100,90 -70,80 L-50,70 Q-30,90 0,80 L90,30 Q110,10 100,-10 L110,-20 Q125,-50 100,-60 L80,-60 Q70,-80 40,-75 L-50,-30 Q-70,-10 -65,10 Q-100,10 -110,30 Z"/>

<path d="M80,122 L125,155 L130,220 L100,235 L70,190"/><ellipse cx="105" cy="208" rx="12" ry="15"/>
<path d="M215,30 L218,80 Q230,95 245,80 L242,25 M170,90 L215,110 M260,60 L300,40"/>
<path d="M0,-350 Q5,-300 30,-290 Q60,-290 70,-320 L90,-300 L115,-190 L145,-320 Q170,-300 200,-330 L230,-340 M95,-300 L118,-215 L138,-318 M-10,-330 L-5,-180 M240,-340 L245,-250"/>
<path d="M-160,120 L-100,150 L-20,190 M130,0 L180,-30 M-140,-60 Q-120,-100 -80,-120 L-60,-200"/>
<ellipse cx="75" cy="-140" rx="10" ry="12"/>
<path d="M-150,212 L-90,232 L160,92 L168,105 M-150,230 L-92,250 L160,110 M85,190 L92,262 M125,220 L130,250 M-30,-200 Q-10,-170 20,-180 M150,-210 Q175,-185 200,-205 M30,-290 L35,-200 M70,-320 L75,-230 M-120,70 L-125,130 M100,-10 L105,60 M-65,10 L-70,-30"/>
<ellipse cx="50" cy="150" rx="43" ry="46" style="fill:#fff"/><ellipse cx="50" cy="150" rx="35" ry="38" style="stroke-width:7"/><ellipse cx="52" cy="152" rx="20" ry="22" style="stroke-width:5"/>
</g>
<g transform="translate(1968,465)">
<path d="M-110,30 Q-130,50 -120,70 Q-100,90 -70,80 L-50,70 Q-30,90 0,80 L90,30 Q110,10 100,-10 L110,-20 Q125,-50 100,-60 L80,-60 Q70,-80 40,-75 L-50,-30 Q-70,-10 -65,10 Q-100,10 -110,30 Z"/>

<path d="M80,122 L125,155 L130,220 L100,235 L70,190"/><ellipse cx="105" cy="208" rx="12" ry="15"/>
<path d="M215,30 L218,80 Q230,95 245,80 L242,25 M170,90 L215,110 M260,60 L300,40"/>
<path d="M0,-350 Q5,-300 30,-290 Q60,-290 70,-320 L90,-300 L115,-190 L145,-320 Q170,-300 200,-330 L230,-340 M95,-300 L118,-215 L138,-318 M-10,-330 L-5,-180 M240,-340 L245,-250"/>
<path d="M-160,120 L-100,150 L-20,190 M130,0 L180,-30 M-140,-60 Q-120,-100 -80,-120 L-60,-200"/>
<ellipse cx="75" cy="-140" rx="10" ry="12"/>
<path d="M-150,212 L-90,232 L160,92 L168,105 M-150,230 L-92,250 L160,110 M85,190 L92,262 M125,220 L130,250 M-30,-200 Q-10,-170 20,-180 M150,-210 Q175,-185 200,-205 M30,-290 L35,-200 M70,-320 L75,-230 M-120,70 L-125,130 M100,-10 L105,60 M-65,10 L-70,-30"/>
<ellipse cx="50" cy="150" rx="43" ry="46" style="fill:#fff"/><ellipse cx="50" cy="150" rx="35" ry="38" style="stroke-width:7"/><ellipse cx="52" cy="152" rx="20" ry="22" style="stroke-width:5"/>
</g>
</g></g>
<!-- 40_tileN_gasket.svg -->
<g class="ln6" transform="translate(900,2680) scale(0.66667)">
<path d="M10,660 L30,640 L1075,30 Q1095,22 1115,35 L1500,250 Q1520,265 1510,285 L1460,330 L1150,505 L1140,525 L1110,535 L590,830 L585,895 L500,945 L430,940 L150,770 L150,755 L65,705 L10,695 Z"/>
<g class="tn3">
<path d="M28,668 L40,652 L1078,45 Q1095,38 1110,48 L1485,258 Q1500,268 1492,282 L1450,318 L1140,492 L1130,512 L1102,522 L575,820 L570,885 L495,930 L435,925 L165,762 L165,748 L72,695 L28,688 Z"/>
<path d="M40,655 L105,620 L140,625 L215,600 L240,640 M105,632 L560,888 M48,690 L100,640 M150,755 L165,735 L200,750 M300,830 L310,815 L345,830 M440,905 L450,890 L480,900 M72,695 L440,915 M215,600 Q250,590 265,640 L250,690"/>
<ellipse cx="40" cy="680" rx="11" ry="8"/>
<ellipse cx="178" cy="765" rx="11" ry="8"/>
<ellipse cx="312" cy="838" rx="11" ry="8"/>
<ellipse cx="450" cy="918" rx="11" ry="8"/>
</g>
<ellipse cx="472" cy="660" rx="183" ry="105" style="stroke-width:3.8"/>
<ellipse cx="709.5" cy="523.5" rx="183" ry="105" style="stroke-width:3.8"/>
<ellipse cx="947" cy="387" rx="183" ry="105" style="stroke-width:3.8"/>
<ellipse cx="1184.5" cy="250.5" rx="183" ry="105" style="stroke-width:3.8"/>
<ellipse cx="472" cy="660" rx="181" ry="103" style="stroke:none;fill:#fff"/>
<ellipse cx="709.5" cy="523.5" rx="181" ry="103" style="stroke:none;fill:#fff"/>
<ellipse cx="947" cy="387" rx="181" ry="103" style="stroke:none;fill:#fff"/>
<ellipse cx="1184.5" cy="250.5" rx="181" ry="103" style="stroke:none;fill:#fff"/>
<ellipse cx="472" cy="660" rx="161" ry="91" style="stroke-width:3.8"/>
<ellipse cx="709.5" cy="523.5" rx="161" ry="91" style="stroke-width:3.8"/>
<ellipse cx="947" cy="387" rx="161" ry="91" style="stroke-width:3.8"/>
<ellipse cx="1184.5" cy="250.5" rx="161" ry="91" style="stroke-width:3.8"/>
<g class="tn3">
<path d="M250,700 Q235,670 245,640 Q255,590 300,575 L350,572 L365,560 L372,500 Q385,468 415,460 L485,457 Q508,460 514,478 L528,515 Q560,490 602.5,423.5 L609.5,363.5 Q622.5,331.5 652.5,323.5 L722.5,320.5 Q745.5,323.5 751.5,341.5 L765.5,378.5 Q797.5,353.5 840,287 L847,227 Q860,195 890,187 L960,184 Q983,187 989,205 L1003,242 Q1035,217 1077.5,150.5 L1090,120 L1110,128 L1230,125 Q1330,140 1370,220 L1380,260 Q1430,280 1440,300 L1350,350 L1225,420 L1120,480 L990,555 L880,615 L760,690 L640,760 L590,790 Q540,800 510,780 L430,790 Q330,770 290,715 Z"/>
</g>
<path transform="translate(0,-0)" d="M379,525 Q378,505 390,491 Q400,478 420,474 L480,471 Q495,472 499,487 L514,525 Q515,540 504,544 L480,546 L442,536 L397,538 Q382,538 379,525 Z" style="stroke-width:11"/>
<path transform="translate(0,-0)" d="M379,525 Q378,505 390,491 Q400,478 420,474 L480,471 Q495,472 499,487 L514,525 Q515,540 504,544 L480,546 L442,536 L397,538 Q382,538 379,525 Z" style="stroke-width:5;stroke:#fff"/>
<path transform="translate(237.5,-136.5)" d="M379,525 Q378,505 390,491 Q400,478 420,474 L480,471 Q495,472 499,487 L514,525 Q515,540 504,544 L480,546 L442,536 L397,538 Q382,538 379,525 Z" style="stroke-width:11"/>
<path transform="translate(237.5,-136.5)" d="M379,525 Q378,505 390,491 Q400,478 420,474 L480,471 Q495,472 499,487 L514,525 Q515,540 504,544 L480,546 L442,536 L397,538 Q382,538 379,525 Z" style="stroke-width:5;stroke:#fff"/>
<path transform="translate(475,-273)" d="M379,525 Q378,505 390,491 Q400,478 420,474 L480,471 Q495,472 499,487 L514,525 Q515,540 504,544 L480,546 L442,536 L397,538 Q382,538 379,525 Z" style="stroke-width:11"/>
<path transform="translate(475,-273)" d="M379,525 Q378,505 390,491 Q400,478 420,474 L480,471 Q495,472 499,487 L514,525 Q515,540 504,544 L480,546 L442,536 L397,538 Q382,538 379,525 Z" style="stroke-width:5;stroke:#fff"/>
<g class="tn3">
<ellipse cx="700" cy="655" rx="30" ry="21.6" style="stroke-width:4"/><ellipse cx="700" cy="655" rx="19.5" ry="13.5"/>
<ellipse cx="935" cy="518" rx="30" ry="21.6" style="stroke-width:4"/><ellipse cx="935" cy="518" rx="19.5" ry="13.5"/>
<ellipse cx="1170" cy="380" rx="28" ry="20.16" style="stroke-width:4"/><ellipse cx="1170" cy="380" rx="18.2" ry="12.6"/>
<ellipse cx="1410" cy="240" rx="24" ry="17.28" style="stroke-width:4"/><ellipse cx="1410" cy="240" rx="15.6" ry="10.8"/>
<ellipse cx="462" cy="790" rx="24" ry="17.28" style="stroke-width:4"/><ellipse cx="462" cy="790" rx="15.6" ry="10.8"/>
<ellipse cx="237" cy="662" rx="20" ry="14.4" style="stroke-width:4"/><ellipse cx="237" cy="662" rx="13" ry="9"/>
<path d="M1100,80 Q1110,60 1150,62 Q1200,65 1215,100 Q1215,125 1185,128 L1130,118 Q1098,105 1100,80 Z" style="stroke-width:4"/>
<ellipse cx="1140" cy="88" rx="28" ry="20"/><ellipse cx="1190" cy="112" rx="16" ry="11"/>
<rect x="195" y="577" width="30" height="16" rx="7" transform="rotate(-30 210 585)"/>
<rect x="312.5" y="570" width="35" height="16" rx="7" transform="rotate(-30 330 578)"/>
<rect x="547.5" y="447" width="35" height="16" rx="7" transform="rotate(-30 565 455)"/>
<rect x="782.5" y="292" width="35" height="16" rx="7" transform="rotate(-30 800 300)"/>
<rect x="1022.5" y="157" width="35" height="16" rx="7" transform="rotate(-30 1040 165)"/>
<rect x="599.5" y="322" width="25" height="16" rx="7" transform="rotate(-30 612 330)"/>
<rect x="1039" y="92" width="22" height="16" rx="7" transform="rotate(-30 1050 100)"/>
<rect x="1454" y="264" width="22" height="16" rx="7" transform="rotate(-30 1465 272)"/>
<rect x="1380" y="307" width="30" height="16" rx="7" transform="rotate(-30 1395 315)"/>
<rect x="1262.5" y="357" width="45" height="16" rx="7" transform="rotate(-25 1285 365)"/>
<rect x="1135" y="432" width="40" height="16" rx="7" transform="rotate(-40 1155 440)"/>
<rect x="1017.5" y="517" width="35" height="16" rx="7" transform="rotate(-25 1035 525)"/>
<rect x="974" y="542" width="22" height="16" rx="7" transform="rotate(-25 985 550)"/>
<rect x="905" y="577" width="40" height="16" rx="7" transform="rotate(-40 925 585)"/>
<rect x="785" y="642" width="50" height="16" rx="7" transform="rotate(-25 810 650)"/>
<rect x="677.5" y="702" width="35" height="16" rx="7" transform="rotate(-70 695 710)"/>
<rect x="629" y="752" width="22" height="16" rx="7" transform="rotate(-25 640 760)"/>
<rect x="589" y="767" width="22" height="16" rx="7" transform="rotate(-25 600 775)"/>
<rect x="510" y="792" width="30" height="16" rx="7" transform="rotate(-60 525 800)"/>
<ellipse cx="268" cy="555" rx="9" ry="7"/>
<ellipse cx="282" cy="620" rx="9" ry="7"/>
<ellipse cx="282" cy="690" rx="9" ry="7"/>
<ellipse cx="397" cy="550" rx="9" ry="7"/>
<ellipse cx="520" cy="482" rx="9" ry="7"/>
<ellipse cx="520" cy="550" rx="9" ry="7"/>
<ellipse cx="635" cy="415" rx="9" ry="7"/>
<ellipse cx="758" cy="340" rx="9" ry="7"/>
<ellipse cx="755" cy="410" rx="9" ry="7"/>
<ellipse cx="872" cy="277" rx="9" ry="7"/>
<ellipse cx="995" cy="205" rx="9" ry="7"/>
<ellipse cx="990" cy="272" rx="9" ry="7"/>
<ellipse cx="1000" cy="130" rx="9" ry="7"/>
<ellipse cx="1105" cy="140" rx="9" ry="7"/>
<ellipse cx="1238" cy="135" rx="9" ry="7"/>
</g>
<path class="ld4" d="M940,645 L940,720 M478,160 L545,160 M460,205 L460,258 L360,200 L360,85"/>
<path d="M438,128 Q438,114 460,114 Q482,114 482,128 L482,142 L472,150 L472,200 Q460,208 448,200 L448,150 L438,142 Z"/>
<path class="tn3" d="M438,130 Q460,146 482,130 M448,162 L472,158 M448,174 L472,170 M448,186 L472,182 M448,198 L472,194 M452,124 l8,3 l8,-3"/>
</g>
<text class="lbl" x="1525" y="3210">6</text>
</svg>
</body></html>
